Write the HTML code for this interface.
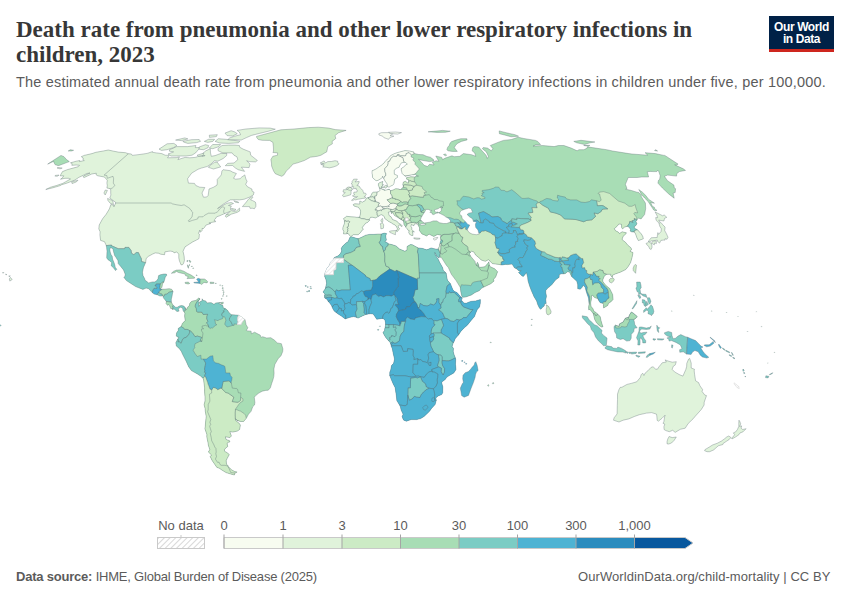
<!DOCTYPE html>
<html><head><meta charset="utf-8">
<style>
html,body{margin:0;padding:0;background:#fff;}
body{width:850px;height:600px;position:relative;overflow:hidden;font-family:"Liberation Sans",sans-serif;}
#title{position:absolute;left:16px;top:16.5px;margin:0;font-family:"Liberation Serif",serif;font-weight:bold;font-size:23px;line-height:25.2px;color:#373737;letter-spacing:0px;white-space:nowrap;}
#subtitle{position:absolute;left:16px;top:73.5px;font-size:14.5px;line-height:17px;color:#5b5b5b;letter-spacing:0.19px;white-space:nowrap;}
#logo{position:absolute;left:769px;top:16px;width:65px;height:36px;background:#002147;box-sizing:border-box;border-bottom:3px solid #ce261e;color:#fff;font-weight:bold;font-size:12px;line-height:12px;text-align:center;letter-spacing:-0.4px;padding-top:4.5px;}
#src{position:absolute;left:16px;top:569px;font-size:13px;line-height:16px;color:#5b5b5b;letter-spacing:-0.21px;white-space:nowrap;}
#src b{font-weight:bold;}
#url{position:absolute;right:19.5px;top:569px;font-size:13px;line-height:16px;color:#5b5b5b;letter-spacing:0.07px;white-space:nowrap;}
svg{position:absolute;left:0;top:0;}
.lg{font-size:13px;fill:#5b5b5b;font-family:"Liberation Sans",sans-serif;}
</style></head><body>
<div id="title">Death rate from pneumonia and other lower respiratory infections in<br>children, 2023</div>
<div id="subtitle">The estimated annual death rate from pneumonia and other lower respiratory infections in children under five, per 100,000.</div>
<div id="logo">Our World<br>in Data</div>
<div id="src"><b>Data source:</b> IHME, Global Burden of Disease (2025)</div>
<div id="url">OurWorldinData.org/child-mortality | CC BY</div>
<svg id="legend" width="850" height="600" viewBox="0 0 850 600">
<defs><pattern id="hatch" patternUnits="userSpaceOnUse" width="4" height="4" patternTransform="rotate(45)"><rect width="4" height="4" fill="#fff"/><line x1="0" y1="0" x2="0" y2="4" stroke="#cfcfcf" stroke-width="1.6"/></pattern></defs>
<g>
<rect x="157.5" y="537.5" width="47" height="11" fill="url(#hatch)" stroke="#c9c9c9" stroke-width="1"/>
<text class="lg" x="181" y="530" text-anchor="middle">No data</text><path d="M181 535V537.5" stroke="#c9c9c9" stroke-width="1"/>
<rect x="224" y="537.5" width="59" height="11" fill="#f7fcf0"/>
<rect x="283" y="537.5" width="59" height="11" fill="#e0f3db"/>
<rect x="342" y="537.5" width="58.5" height="11" fill="#ccebc5"/>
<rect x="400.5" y="537.5" width="58.5" height="11" fill="#a8ddb5"/>
<rect x="459" y="537.5" width="58.5" height="11" fill="#7bccc4"/>
<rect x="517.5" y="537.5" width="58.5" height="11" fill="#4eb3d3"/>
<rect x="576" y="537.5" width="58.5" height="11" fill="#2b8cbe"/>
<path d="M634.5 537.5H685L693 543L685 548.5H634.5Z" fill="#08589e"/>
<path d="M224 537.5H685L693 543L685 548.5H224Z" fill="none" stroke="#c9c9c9" stroke-width="1"/>
<g stroke="#a5a5a5" stroke-width="1"><path d="M224 534.5V548.5M283 534.5V548.5M342 534.5V548.5M400.5 534.5V548.5M459 534.5V548.5M517.5 534.5V548.5M576 534.5V548.5M634.5 534.5V548.5"/></g>
<g text-anchor="middle"><text class="lg" x="224" y="530">0</text><text class="lg" x="283" y="530">1</text><text class="lg" x="342" y="530">3</text><text class="lg" x="400.5" y="530">10</text><text class="lg" x="459" y="530">30</text><text class="lg" x="517.5" y="530">100</text><text class="lg" x="576" y="530">300</text><text class="lg" x="634.5" y="530">1,000</text></g>
</g>
</svg>
<svg id="map" width="850" height="600" viewBox="0 0 850 600"><defs><pattern id="hatchm" patternUnits="userSpaceOnUse" width="3" height="3" patternTransform="rotate(45)"><rect width="3" height="3" fill="#fff"/><line x1="0" y1="0" x2="0" y2="3" stroke="#e6e6e6" stroke-width="1.5"/></pattern><clipPath id="cp_africa"><path d="M350.1 237.0L351.4 236.7L356.4 238.3L358.1 238.8L361.6 237.3L365.7 235.2L369.4 234.4L373.9 234.4L377.8 234.1L379.7 234.1L381.4 234.1L384.2 233.1L386.6 233.6L385.8 235.4L385.8 237.0L386.4 239.9L384.9 241.9L386.9 242.5L388.3 243.8L391.8 244.6L396.0 245.9L399.5 249.0L404.9 251.3L407.0 250.0L407.0 246.6L410.4 244.6L412.4 244.8L415.6 246.6L418.3 247.9L422.8 248.5L426.6 249.8L428.8 249.0L431.1 247.9L434.0 248.7L437.4 249.3L438.2 248.7L440.2 253.4L439.0 258.1L436.6 255.8L434.8 252.4L435.2 254.7L438.3 259.4L439.6 262.3L442.7 267.8L443.3 270.4L446.1 273.0L447.2 279.3L447.7 280.6L450.3 283.4L452.9 289.7L454.2 291.3L457.0 292.6L460.5 296.5L461.5 297.3L462.3 299.1L460.7 300.1L461.8 300.4L463.8 303.0L466.1 303.3L470.6 301.4L475.6 300.9L480.4 299.6L480.3 303.3L479.5 306.9L477.3 309.5L475.6 313.4L474.5 316.6L471.1 320.5L467.3 325.2L464.3 327.8L460.8 331.4L458.7 334.8L457.1 336.4L455.2 338.7L454.3 341.1L452.9 343.7L452.1 346.6L453.5 348.4L453.2 351.3L453.8 353.9L455.1 357.3L455.7 359.1L455.5 364.3L456.0 369.5L453.8 372.9L449.8 375.3L446.9 377.1L445.2 379.5L441.7 382.1L442.0 384.1L442.8 386.8L442.7 392.8L441.7 394.6L438.2 395.9L435.8 398.0L436.3 400.3L435.1 404.5L434.2 405.5L431.5 408.4L429.5 411.3L427.8 412.9L424.0 416.5L420.7 418.6L418.7 419.1L416.9 419.6L411.1 419.6L406.4 421.2L403.8 420.2L403.0 418.9L402.1 416.5L403.1 414.2L401.1 410.0L400.4 406.8L399.5 405.0L396.8 400.6L396.3 395.6L395.5 390.4L395.2 387.8L393.2 383.9L391.3 379.5L389.7 375.5L389.8 372.1L390.7 370.1L391.5 365.6L393.6 363.3L394.5 359.1L393.2 353.4L392.3 348.7L391.2 346.1L391.0 345.0L390.5 343.4L390.1 342.4L388.2 340.3L385.9 337.7L384.1 334.8L382.9 332.2L384.6 330.9L384.6 329.4L385.0 327.8L385.5 325.4L385.5 322.8L385.0 320.2L383.4 318.7L382.0 318.4L379.0 318.9L376.7 319.2L375.1 316.8L373.2 314.0L370.7 313.7L368.4 314.0L365.7 314.5L362.4 316.0L358.1 318.1L355.5 317.1L353.7 316.6L349.1 317.6L345.2 318.9L341.7 316.3L338.1 314.0L334.2 311.1L332.6 308.2L331.5 305.6L329.0 302.0L328.3 301.7L327.2 299.4L324.7 298.0L324.5 295.4L325.0 294.1L323.0 292.0L325.3 288.7L326.6 283.2L326.0 279.8L324.5 275.9L324.8 273.5L326.9 268.6L329.5 265.2L330.5 262.3L333.5 259.4L334.2 257.6L338.2 255.8L340.3 253.7L341.7 251.1L341.3 248.2L342.7 246.1L346.3 242.7L348.1 241.7L349.4 238.6Z"/></clipPath><clipPath id="cp_samerica"><path d="M185.2 307.7L186.5 309.5L187.7 307.2L189.4 305.4L189.8 303.3L191.5 301.4L192.9 300.9L195.9 300.4L198.8 298.0L199.9 298.8L199.6 299.6L198.2 301.2L198.8 302.5L198.8 306.4L200.0 304.8L199.5 302.0L202.1 300.7L202.2 298.8L203.0 300.4L205.7 300.9L207.0 303.0L209.5 302.7L211.3 302.7L213.3 304.0L214.5 304.0L215.7 303.0L220.8 302.5L218.9 303.3L219.5 304.0L222.9 305.6L223.3 308.0L225.1 308.5L227.3 310.0L229.1 312.7L231.3 314.7L235.9 315.0L238.7 315.3L242.5 317.6L244.1 319.2L245.0 319.4L246.1 324.7L247.9 327.8L246.3 330.4L247.7 330.9L251.1 331.2L251.4 333.8L254.6 332.2L258.1 334.1L260.2 335.1L261.1 337.4L262.7 336.7L266.6 338.0L270.8 337.7L274.3 340.1L277.3 342.9L281.4 343.7L281.9 345.5L282.9 348.9L282.7 351.5L281.0 355.7L278.1 358.8L274.9 364.3L273.9 369.0L274.1 373.2L273.8 376.6L272.9 380.0L271.7 383.4L270.4 387.8L268.3 390.2L265.7 390.4L262.3 391.2L258.9 393.0L255.7 395.6L254.3 397.2L254.9 402.4L254.5 405.0L252.7 406.8L251.1 411.3L248.5 414.2L246.3 418.3L243.6 421.5L240.7 421.5L237.1 420.4L235.5 419.1L235.8 420.7L238.9 423.0L240.4 425.1L239.6 429.5L237.4 431.1L232.7 432.1L229.8 431.6L231.4 436.0L229.9 437.6L225.4 436.8L226.0 439.4L229.5 440.7L229.9 441.9L228.5 442.2L227.1 443.2L227.7 446.6L225.7 448.1L224.3 449.9L224.8 451.4L227.1 452.7L229.3 454.5L227.1 458.6L226.2 460.6L226.5 464.3L228.5 466.1L227.8 466.8L229.6 467.8L231.4 469.8L234.8 471.6L237.1 472.1L235.0 473.1L234.4 475.0L230.7 474.0L226.1 472.6L222.3 470.3L219.4 468.3L216.8 467.3L214.6 464.1L212.1 460.4L210.2 456.5L211.6 455.0L208.4 452.0L209.8 449.7L208.3 445.0L208.1 443.0L207.3 439.4L206.8 436.8L206.9 434.5L204.9 428.7L205.3 426.4L205.5 423.0L206.2 416.5L205.3 411.3L205.1 408.4L204.1 404.8L205.0 401.1L205.0 396.7L204.6 392.0L204.6 387.8L204.0 383.1L203.4 378.7L200.9 376.3L197.5 374.0L191.4 370.6L188.6 366.7L186.4 361.7L184.8 358.6L182.5 354.1L181.4 351.5L179.2 348.4L176.4 346.1L175.8 342.7L177.5 339.5L178.9 337.2L178.0 337.2L176.3 336.1L176.5 333.0L178.3 330.4L178.3 328.3L179.3 327.8L181.4 326.2L182.3 323.6L185.2 320.5L184.6 316.0L184.9 313.2L183.9 311.6L185.5 309.8Z"/></clipPath><clipPath id="cp_namerica"><path d="M185.2 307.7L183.9 306.1L181.6 305.5L179.5 305.9L177.4 307.2L175.8 307.4L174.2 306.1L173.3 305.4L172.5 304.3L171.3 302.0L171.3 299.1L172.0 296.5L172.4 293.9L173.1 291.3L171.5 289.2L169.3 288.7L166.9 288.9L165.1 289.2L162.6 289.2L160.3 288.9L161.9 287.3L162.4 284.7L163.0 282.4L163.6 282.7L164.7 279.5L165.2 277.4L166.8 275.1L166.3 274.0L163.8 274.0L160.3 274.8L158.6 275.6L158.0 278.7L156.6 280.8L154.6 281.9L152.4 281.9L148.6 282.9L146.9 281.6L145.1 280.3L144.6 278.5L143.0 275.6L142.5 272.2L143.4 267.8L145.0 263.9L145.6 262.7L146.2 258.4L148.5 256.3L152.7 254.0L155.2 252.9L158.5 253.2L160.7 254.2L162.8 254.5L164.6 254.7L164.9 251.9L168.4 251.3L170.2 251.1L173.2 251.6L174.0 252.9L176.7 251.9L178.1 253.4L178.8 254.5L178.8 257.9L179.4 260.7L180.0 262.3L181.1 264.9L182.7 264.6L183.7 263.1L184.4 260.5L184.1 256.0L183.0 251.3L185.0 246.9L187.8 245.1L192.7 241.9L196.4 240.1L199.0 238.6L199.4 234.1L198.5 233.4L199.9 230.0L200.3 232.3L202.1 230.5L202.2 228.2L203.0 228.9L204.4 227.6L206.1 225.0L208.4 224.3L210.8 223.5L208.9 223.0L212.5 222.2L215.6 221.7L215.4 220.9L214.4 220.9L214.3 219.9L215.2 219.1L216.7 216.8L219.6 215.8L224.3 213.7L226.7 212.7L230.3 211.4L229.3 212.4L226.2 214.5L225.4 216.3L226.2 217.3L231.2 214.2L237.1 212.4L239.7 210.9L239.5 208.1L236.6 210.9L234.0 211.4L231.5 210.6L230.7 210.1L230.4 207.8L231.4 206.0L228.5 205.5L233.5 203.5L231.2 202.5L226.9 203.2L221.9 206.0L217.5 208.6L221.7 205.3L225.8 202.5L230.3 199.9L235.2 199.7L239.5 199.9L244.3 199.2L249.9 197.0L253.3 195.0L254.1 192.2L252.1 191.2L251.9 189.0L247.5 186.8L245.7 184.3L247.1 181.4L245.9 179.0L244.8 174.9L241.8 177.0L240.1 178.7L235.6 179.2L233.6 178.3L235.0 175.8L236.4 173.5L232.6 172.1L230.2 170.7L223.1 169.7L221.9 171.1L221.4 174.4L220.6 175.8L217.2 179.5L217.3 183.1L217.0 185.1L213.6 187.2L209.0 189.0L208.5 193.0L208.1 195.5L206.7 197.0L203.5 197.2L202.6 195.0L202.0 193.0L204.8 187.5L199.7 187.2L195.8 185.5L194.5 183.4L188.4 183.1L187.6 178.7L191.6 173.2L198.0 169.3L201.3 168.1L207.2 166.5L210.9 164.1L214.4 160.7L217.9 161.2L223.2 158.5L226.6 155.6L226.8 153.4L221.0 153.4L215.1 155.6L211.3 156.3L210.5 152.9L210.3 148.7L205.9 150.8L202.7 153.4L202.0 156.3L205.1 155.6L198.6 156.3L195.2 157.4L189.7 157.8L185.0 157.4L177.9 159.6L179.5 156.9L176.3 157.6L167.5 157.8L169.2 155.4L165.2 155.2L161.8 153.6L156.4 152.9L152.5 152.3L152.5 151.6L147.1 153.4L141.1 154.3L136.2 154.9L132.3 155.4L131.4 154.0L128.4 153.7L125.5 152.7L118.2 152.1L113.7 151.2L108.3 150.0L102.2 151.2L95.8 152.3L92.0 153.6L84.2 155.4L81.3 156.7L83.3 158.1L82.8 159.4L84.3 160.5L79.5 161.6L79.8 160.5L76.3 161.2L70.5 162.8L72.2 163.7L71.8 165.3L76.3 165.0L79.5 165.3L78.2 166.7L74.9 167.6L67.2 169.7L62.5 171.6L60.7 174.7L60.1 175.8L63.8 175.8L62.0 178.3L60.5 179.2L65.0 178.3L68.5 178.3L70.5 179.0L65.4 181.9L62.7 183.4L56.5 185.5L50.6 187.2L45.8 189.5L49.5 188.6L52.1 188.0L56.3 186.8L60.5 185.5L61.5 184.8L67.0 183.1L71.9 181.2L75.0 180.0L78.6 177.5L84.5 174.7L86.8 173.5L90.0 173.0L84.0 175.8L83.0 176.8L84.1 177.5L87.9 175.8L91.7 174.0L96.3 173.2L96.0 174.7L97.8 175.8L104.4 177.0L107.3 180.2L106.9 183.1L107.3 185.5L106.9 188.0L110.2 188.7L110.7 189.7L110.7 193.0L110.9 195.0L109.8 198.0L112.9 200.4L115.5 202.2L115.7 203.0L113.9 206.8L113.8 205.3L110.9 204.5L109.6 208.3L108.7 210.1L106.2 214.2L102.5 218.9L99.2 225.0L98.8 228.9L100.1 231.8L99.9 234.9L100.6 240.4L104.5 241.7L106.1 245.1L106.6 247.4L107.0 251.1L106.7 257.9L108.0 259.7L109.5 260.7L111.7 262.6L111.2 265.7L113.5 267.8L115.5 270.6L116.8 269.3L115.2 267.3L114.9 265.2L114.0 262.6L112.6 259.2L112.2 256.3L111.1 254.7L110.2 252.1L109.8 249.5L110.5 247.4L112.9 248.7L113.5 251.6L114.2 254.0L114.5 255.3L116.1 257.6L118.0 260.7L118.2 263.6L120.5 266.2L123.5 269.9L125.2 274.3L124.8 276.7L123.8 277.2L126.4 280.6L130.8 283.4L135.6 286.6L141.7 288.9L142.9 289.4L146.1 288.1L148.7 288.7L152.2 292.6L154.1 294.1L157.0 294.7L157.7 294.9L159.9 296.0L162.2 296.0L163.1 295.4L163.3 296.5L163.4 297.8L164.8 299.6L166.1 301.2L166.5 302.0L165.9 303.3L167.6 305.4L168.3 304.3L168.3 304.6L169.7 305.9L170.7 308.5L172.3 308.7L172.5 309.5L174.1 309.0L175.6 310.3L177.0 311.6L179.1 311.1L178.2 309.0L180.4 307.2L182.6 308.0L182.8 309.3L183.2 310.8L183.9 311.6L185.5 309.8Z"/></clipPath><clipPath id="cp_eurasia"><path d="M405.0 150.6L409.6 151.0L414.0 152.1L414.0 153.4L418.8 154.5L423.1 154.7L427.0 156.5L430.3 157.2L433.5 159.6L433.6 161.0L429.5 161.6L423.1 160.5L418.5 159.4L420.8 161.4L424.1 165.3L427.5 166.5L429.5 164.3L434.1 165.0L432.3 162.3L436.1 160.7L438.9 161.4L435.8 156.0L441.7 157.4L442.6 159.6L445.3 158.1L452.0 155.8L454.1 156.7L459.8 156.3L463.4 153.6L471.5 154.7L475.8 156.3L474.7 152.9L472.1 150.8L472.8 147.6L474.4 146.6L478.7 147.0L482.0 150.8L486.0 155.2L487.3 158.5L488.4 156.3L486.3 151.9L482.4 148.7L483.2 147.6L487.5 148.1L491.3 150.8L492.9 148.7L490.3 145.5L497.9 142.4L503.4 140.4L511.4 139.5L518.0 137.2L523.8 138.5L535.5 140.4L537.7 141.4L540.6 144.5L535.6 144.9L533.0 146.2L542.6 145.5L554.1 146.6L558.4 145.5L563.9 145.5L571.2 148.1L577.1 150.8L579.0 149.7L583.9 149.7L587.2 148.1L587.4 146.8L592.3 147.6L606.6 149.7L612.6 151.0L628.8 153.6L631.9 154.0L647.7 155.2L645.1 152.7L655.4 153.6L663.9 155.4L664.8 155.4L678.1 164.1L676.7 165.0L674.7 164.8L683.3 168.8L685.5 170.4L679.4 171.6L676.7 173.7L676.6 176.1L667.6 175.1L664.4 176.3L667.5 180.7L673.9 185.1L674.3 188.0L675.6 188.7L675.2 192.5L673.1 193.0L674.2 198.2L669.0 194.2L662.4 188.0L657.9 183.1L658.5 180.2L659.6 179.5L660.2 175.8L658.9 171.8L657.7 170.2L656.8 171.6L653.1 171.6L650.1 171.4L647.1 171.8L647.6 173.0L648.6 177.0L641.7 177.0L637.1 177.5L628.2 177.5L626.7 181.2L625.4 184.3L627.0 188.5L625.7 189.2L631.5 190.5L636.9 192.2L638.7 192.5L641.3 195.5L641.3 196.7L645.4 203.0L645.7 208.6L644.6 214.5L641.1 218.9L638.3 218.1L637.0 220.1L635.9 221.4L637.0 223.8L635.4 226.1L634.2 226.6L634.5 228.2L637.4 229.7L641.3 233.9L642.8 236.5L643.3 238.8L641.2 239.6L638.4 240.6L636.9 237.8L635.6 234.1L634.9 232.6L633.6 232.1L631.5 231.8L630.1 231.0L630.6 229.5L628.9 227.1L627.3 226.3L624.6 227.1L622.5 228.9L621.6 227.4L621.5 224.3L618.8 224.0L617.1 226.3L614.3 228.7L615.6 230.8L618.3 232.1L619.5 233.6L622.1 231.8L626.4 232.8L625.7 234.1L623.2 236.2L622.1 239.1L622.4 239.9L625.4 242.2L627.9 245.3L631.1 247.9L631.5 249.8L629.9 251.3L633.0 252.6L632.1 257.3L630.6 262.6L628.2 266.5L625.7 269.6L620.3 272.2L618.8 272.7L615.2 274.0L612.5 275.3L612.5 277.4L610.8 275.9L610.8 274.3L609.2 274.3L606.7 274.3L604.3 276.1L602.7 280.0L602.9 281.6L605.2 284.7L608.1 287.3L609.6 288.4L612.6 294.4L613.1 299.4L610.7 302.0L608.5 303.3L607.8 305.4L603.6 308.0L603.4 304.8L604.0 304.3L602.5 303.3L600.2 302.7L598.8 300.7L598.5 299.9L597.5 298.6L594.7 297.5L593.7 296.7L592.8 295.2L591.5 295.7L591.6 297.5L591.4 299.6L590.6 303.0L591.1 306.4L592.8 308.5L594.1 311.6L596.0 312.4L597.7 314.2L600.2 316.6L601.0 320.5L602.0 324.1L603.0 326.7L601.4 327.0L598.3 324.7L596.4 322.6L594.7 319.4L593.9 316.3L593.3 313.7L591.3 311.1L589.9 309.5L588.7 309.8L588.6 306.9L589.1 304.3L588.5 298.0L587.0 293.9L586.0 290.7L585.1 287.3L583.2 285.3L582.1 287.3L580.3 289.2L577.7 288.7L577.7 284.7L576.8 281.3L573.2 278.0L571.6 276.4L570.6 274.6L569.8 272.2L567.5 271.7L565.9 273.3L564.0 273.8L561.5 273.8L559.3 274.6L559.1 277.4L557.2 278.7L555.5 280.0L552.2 284.2L550.1 286.3L547.8 288.1L545.8 290.5L545.8 292.8L546.5 296.2L545.8 299.4L546.2 303.5L544.6 303.8L544.2 306.1L542.4 307.4L540.9 309.3L539.5 308.2L537.7 304.6L536.6 300.9L534.0 296.7L531.2 290.2L529.6 286.0L528.0 280.8L527.6 277.2L527.1 275.1L526.4 272.5L525.8 273.5L523.4 276.4L522.0 275.9L520.0 274.0L518.5 272.5L521.2 270.6L519.0 270.9L516.2 268.6L514.6 268.0L513.2 265.7L511.9 264.1L507.7 264.6L505.2 264.4L502.6 264.9L501.2 264.9L498.7 264.4L492.3 263.6L490.2 261.3L488.5 259.7L485.3 261.3L481.1 260.0L479.8 258.4L475.6 255.0L474.0 252.1L471.2 251.1L470.5 252.4L469.3 253.7L470.7 256.3L473.8 260.0L475.1 261.5L475.3 263.3L476.9 266.0L476.7 263.9L477.4 262.3L478.6 264.6L478.8 267.0L480.8 267.3L485.0 266.7L486.8 264.4L488.2 263.1L488.9 261.8L489.3 264.9L490.2 266.7L494.7 268.8L497.6 271.7L495.7 276.9L493.6 279.3L494.0 281.1L490.8 283.7L486.0 286.0L483.8 287.1L481.8 288.1L479.2 290.7L475.0 292.6L471.5 294.9L465.8 297.0L462.4 297.3L461.7 295.7L460.8 291.8L460.3 287.6L459.6 286.3L456.1 280.6L451.4 274.3L448.3 267.5L446.3 265.2L444.3 262.0L442.5 259.2L441.2 257.3L439.9 257.3L440.4 253.4L440.2 253.4L438.2 248.7L439.3 246.6L439.6 244.8L440.3 241.9L440.9 240.6L440.5 237.8L441.0 234.9L439.5 234.9L437.5 234.4L433.8 236.5L429.0 234.1L426.7 236.0L423.9 234.7L421.9 233.9L419.4 230.5L419.6 227.9L418.6 226.1L417.9 224.5L417.7 224.0L414.5 223.8L413.9 225.8L411.4 224.5L410.9 226.3L411.9 227.9L411.8 229.5L414.4 232.1L412.2 231.5L412.8 233.1L413.0 235.4L411.5 235.4L409.7 234.4L408.6 232.1L409.4 230.8L408.0 230.2L407.1 228.7L405.9 227.4L405.4 226.3L404.0 224.8L403.8 222.7L403.7 221.2L401.7 219.9L400.8 219.4L397.1 217.0L394.5 215.5L392.6 212.4L391.6 213.7L391.3 211.6L388.2 212.2L388.7 213.4L389.1 215.5L391.0 216.8L392.6 219.6L397.0 221.2L398.6 223.2L401.0 224.5L402.2 225.8L402.0 226.6L401.1 226.1L399.3 224.8L398.0 226.9L399.6 228.7L398.4 230.2L397.4 231.5L396.3 231.0L397.5 228.9L396.2 226.1L394.2 224.5L392.9 224.0L391.6 223.0L388.6 221.4L387.7 220.7L384.8 218.6L384.4 217.0L383.2 215.5L381.3 214.7L380.5 215.0L378.1 216.5L375.2 218.1L374.2 217.6L372.5 217.3L370.6 217.3L369.2 219.4L369.8 220.1L367.5 222.5L365.6 223.2L364.8 224.3L362.3 227.4L363.3 229.5L361.8 230.5L360.8 232.3L358.2 234.7L353.4 234.7L351.3 236.2L350.8 236.5L349.3 235.2L348.1 233.4L345.9 233.9L343.5 233.9L343.8 231.3L342.8 229.5L342.9 227.6L344.5 223.2L344.4 220.4L343.5 218.6L345.4 217.3L346.5 216.3L351.0 216.8L355.0 217.0L356.6 217.3L359.1 217.3L359.6 217.0L360.4 214.0L360.6 211.6L360.4 210.1L358.4 207.3L356.6 206.8L354.0 206.0L353.2 204.5L354.8 203.8L358.9 204.0L359.9 204.0L359.7 201.2L360.3 201.2L362.3 202.2L363.1 201.7L365.1 200.7L366.1 198.7L366.7 198.0L367.7 197.8L368.6 197.5L369.2 197.1L370.0 197.0L371.0 195.5L372.1 193.1L373.4 192.2L376.3 192.0L376.9 192.0L378.7 191.5L379.8 190.7L380.1 190.2L379.5 188.2L379.0 186.8L378.4 185.5L378.4 183.8L379.1 182.9L382.8 181.4L382.7 182.1L382.4 183.1L382.3 185.1L383.6 184.6L381.7 186.5L381.4 188.0L381.0 188.5L382.6 189.5L384.4 189.5L384.0 190.5L386.3 190.0L389.2 189.2L390.5 190.7L393.1 190.0L395.7 188.7L399.2 189.0L399.1 189.5L400.8 189.5L401.3 188.8L403.2 187.2L403.3 186.3L402.8 184.3L403.4 182.1L405.4 181.3L407.9 183.1L408.5 183.1L408.6 180.9L408.7 179.7L406.7 179.2L406.5 178.3L406.3 177.8L408.6 177.2L410.9 176.8L414.7 177.0L416.3 176.1L418.5 176.1L416.2 175.4L415.4 174.2L413.8 174.7L412.2 174.7L408.8 175.4L405.3 176.3L403.6 174.9L401.9 173.2L401.9 172.1L401.2 170.0L401.3 168.6L403.7 166.9L405.9 164.8L407.4 164.1L405.5 162.5L404.7 162.3L401.5 162.8L400.1 164.8L399.1 167.2L396.4 168.3L394.2 170.2L394.3 174.2L397.4 175.4L397.4 177.5L394.9 179.0L394.3 181.2L394.0 183.8L392.6 185.2L390.3 186.3L389.4 187.0L388.2 187.0L387.6 186.5L387.1 185.4L387.2 184.0L385.3 181.4L383.7 178.5L383.1 177.8L382.6 176.1L382.2 177.5L381.5 178.3L377.9 180.4L376.1 180.7L373.3 178.4L372.5 177.3L372.4 174.9L372.0 173.2L372.1 170.7L374.0 170.0L376.6 168.6L378.5 167.2L381.4 165.3L382.5 164.3L384.1 163.0L384.7 161.9L387.5 159.0L389.2 157.4L390.6 155.6L394.5 153.6L397.6 152.5L401.8 151.4Z"/></clipPath></defs><g stroke="#5a6a70" stroke-width="0.5" stroke-opacity="0.7" stroke-linejoin="round"><path d="M350.1 237.0L351.4 236.7L356.4 238.3L358.1 238.8L361.6 237.3L365.7 235.2L369.4 234.4L373.9 234.4L377.8 234.1L379.7 234.1L381.4 234.1L384.2 233.1L386.6 233.6L385.8 235.4L385.8 237.0L386.4 239.9L384.9 241.9L386.9 242.5L388.3 243.8L391.8 244.6L396.0 245.9L399.5 249.0L404.9 251.3L407.0 250.0L407.0 246.6L410.4 244.6L412.4 244.8L415.6 246.6L418.3 247.9L422.8 248.5L426.6 249.8L428.8 249.0L431.1 247.9L434.0 248.7L437.4 249.3L438.2 248.7L440.2 253.4L439.0 258.1L436.6 255.8L434.8 252.4L435.2 254.7L438.3 259.4L439.6 262.3L442.7 267.8L443.3 270.4L446.1 273.0L447.2 279.3L447.7 280.6L450.3 283.4L452.9 289.7L454.2 291.3L457.0 292.6L460.5 296.5L461.5 297.3L462.3 299.1L460.7 300.1L461.8 300.4L463.8 303.0L466.1 303.3L470.6 301.4L475.6 300.9L480.4 299.6L480.3 303.3L479.5 306.9L477.3 309.5L475.6 313.4L474.5 316.6L471.1 320.5L467.3 325.2L464.3 327.8L460.8 331.4L458.7 334.8L457.1 336.4L455.2 338.7L454.3 341.1L452.9 343.7L452.1 346.6L453.5 348.4L453.2 351.3L453.8 353.9L455.1 357.3L455.7 359.1L455.5 364.3L456.0 369.5L453.8 372.9L449.8 375.3L446.9 377.1L445.2 379.5L441.7 382.1L442.0 384.1L442.8 386.8L442.7 392.8L441.7 394.6L438.2 395.9L435.8 398.0L436.3 400.3L435.1 404.5L434.2 405.5L431.5 408.4L429.5 411.3L427.8 412.9L424.0 416.5L420.7 418.6L418.7 419.1L416.9 419.6L411.1 419.6L406.4 421.2L403.8 420.2L403.0 418.9L402.1 416.5L403.1 414.2L401.1 410.0L400.4 406.8L399.5 405.0L396.8 400.6L396.3 395.6L395.5 390.4L395.2 387.8L393.2 383.9L391.3 379.5L389.7 375.5L389.8 372.1L390.7 370.1L391.5 365.6L393.6 363.3L394.5 359.1L393.2 353.4L392.3 348.7L391.2 346.1L391.0 345.0L390.5 343.4L390.1 342.4L388.2 340.3L385.9 337.7L384.1 334.8L382.9 332.2L384.6 330.9L384.6 329.4L385.0 327.8L385.5 325.4L385.5 322.8L385.0 320.2L383.4 318.7L382.0 318.4L379.0 318.9L376.7 319.2L375.1 316.8L373.2 314.0L370.7 313.7L368.4 314.0L365.7 314.5L362.4 316.0L358.1 318.1L355.5 317.1L353.7 316.6L349.1 317.6L345.2 318.9L341.7 316.3L338.1 314.0L334.2 311.1L332.6 308.2L331.5 305.6L329.0 302.0L328.3 301.7L327.2 299.4L324.7 298.0L324.5 295.4L325.0 294.1L323.0 292.0L325.3 288.7L326.6 283.2L326.0 279.8L324.5 275.9L324.8 273.5L326.9 268.6L329.5 265.2L330.5 262.3L333.5 259.4L334.2 257.6L338.2 255.8L340.3 253.7L341.7 251.1L341.3 248.2L342.7 246.1L346.3 242.7L348.1 241.7L349.4 238.6Z" fill="#4eb3d3" stroke="none"/>
<g clip-path="url(#cp_africa)">
<path d="M343.6 258.2L343.6 255.5L346.1 253.7L348.5 253.2L350.7 252.6L351.8 252.1L355.0 250.3L355.0 249.5L356.5 247.4L360.3 246.6L360.3 245.9L359.2 243.5L359.0 241.7L358.1 238.8L358.6 231.3L335.0 231.3L327.3 258.2Z" fill="#7bccc4"/>
<path d="M343.6 258.2L343.5 262.6L336.1 262.6L335.9 269.3L333.6 270.4L333.5 274.7L324.7 274.7L324.2 276.1L317.7 276.1L318.4 258.2Z" fill="url(#hatchm)"/>
<path d="M343.6 259.2L352.1 265.2L348.3 265.2L350.4 290.0L341.7 290.0L338.0 291.0L336.7 289.7L335.1 291.8L334.4 291.5L332.6 289.4L329.0 287.0L326.9 287.3L325.3 288.4L317.3 288.7L317.7 276.1L324.2 276.1L324.7 274.7L333.5 274.7L333.6 270.4L335.9 269.3L336.1 262.6L343.5 262.6Z" fill="#7bccc4"/>
<path d="M358.1 238.8L359.0 241.7L359.2 243.5L360.3 245.9L360.3 246.6L356.5 247.4L355.0 249.5L355.0 250.3L351.8 252.1L350.7 252.6L348.5 253.2L346.1 253.7L343.6 255.5L343.6 259.2L352.1 265.2L365.4 275.3L365.6 276.4L370.1 278.7L370.4 280.8L372.5 280.4L376.0 279.8L379.8 275.9L389.8 269.1L388.7 267.0L386.0 266.2L384.8 261.3L384.9 256.6L384.6 253.7L383.9 251.6L382.9 249.0L382.7 246.6L381.1 245.6L379.3 242.5L380.7 240.1L380.9 237.5L381.4 234.1L381.3 228.7L358.2 228.7Z" fill="#a8ddb5"/>
<path d="M381.4 234.1L380.9 237.5L380.7 240.1L379.3 242.5L381.1 245.6L382.7 246.6L382.9 249.0L383.9 251.6L385.4 249.8L385.6 247.7L388.1 245.6L388.3 243.8L391.1 239.1L388.5 228.7L381.3 228.7Z" fill="#7bccc4"/>
<path d="M388.3 243.8L388.1 245.6L385.6 247.7L385.4 249.8L383.9 251.6L384.6 253.7L384.9 256.6L384.8 261.3L386.0 266.2L388.7 267.0L389.8 269.1L394.9 271.4L396.7 270.4L417.3 279.5L417.2 278.2L419.5 278.2L419.3 273.0L418.3 254.2L417.5 251.9L418.3 247.9L417.2 239.1L388.1 239.1Z" fill="#a8ddb5"/>
<path d="M418.3 247.9L417.5 251.9L418.3 254.2L419.3 273.0L446.1 273.0L450.5 267.8L444.9 253.4L438.2 248.7L437.3 244.3L418.1 244.3Z" fill="#7bccc4"/>
<path d="M419.3 273.0L419.5 278.2L417.2 278.2L417.6 289.4L415.1 289.7L414.3 293.3L413.9 295.4L412.8 297.3L414.5 301.7L415.3 301.9L417.0 304.6L417.8 307.7L419.4 307.4L420.2 303.5L423.7 305.6L427.2 306.1L429.4 305.1L430.6 304.0L433.6 305.1L436.0 303.0L437.1 299.9L436.4 299.1L438.9 298.6L438.8 302.5L440.9 305.6L441.5 302.7L442.9 302.2L443.3 299.6L445.5 297.3L446.1 294.9L446.2 293.1L446.0 291.3L447.1 286.0L450.3 283.4L455.9 280.8L450.8 271.7L446.1 273.0Z" fill="#7bccc4"/>
<path d="M396.7 270.4L417.3 279.5L417.6 289.4L415.1 289.7L414.3 293.3L413.9 295.4L412.8 297.3L414.5 301.7L415.3 301.9L412.7 302.7L409.7 306.7L406.5 306.9L405.6 309.3L403.6 309.8L401.0 310.3L398.5 310.8L397.8 308.2L395.0 305.1L395.5 304.3L398.5 304.3L397.5 302.2L397.2 298.8L396.3 297.3L395.1 296.2L394.0 294.7L393.5 292.8L395.7 289.4L398.2 286.3L398.3 282.1L398.0 278.5L398.9 277.2Z" fill="#2b8cbe"/>
<path d="M372.5 280.4L376.0 279.8L379.8 275.9L389.8 269.1L394.9 271.4L396.7 270.4L398.9 277.2L398.0 278.5L398.3 282.1L398.2 286.3L395.7 289.4L393.5 292.8L394.0 294.7L391.5 296.2L389.2 295.7L386.2 295.7L383.5 297.0L380.7 295.7L378.7 296.5L375.5 294.1L372.3 295.2L371.1 299.9L369.3 298.0L368.4 299.4L367.9 299.4L367.7 297.3L365.2 296.5L363.8 293.9L363.4 291.5L365.9 290.5L371.1 290.0L372.6 286.3Z" fill="#2b8cbe"/>
<path d="M352.1 265.2L365.4 275.3L365.6 276.4L370.1 278.7L370.4 280.8L372.5 280.4L372.6 286.3L371.1 290.0L365.9 290.5L363.4 291.5L361.3 291.0L358.3 293.3L356.3 293.9L354.9 296.0L353.1 296.2L352.8 297.3L350.8 299.6L350.3 303.3L348.7 302.5L347.1 303.5L344.8 303.8L343.9 301.7L343.0 300.4L341.6 298.3L339.3 298.6L336.8 298.0L336.8 296.5L335.3 293.9L335.1 291.8L336.7 289.7L338.0 291.0L341.7 290.0L350.4 290.0L348.3 265.2Z" fill="#4eb3d3"/>
<path d="M325.3 288.4L326.9 287.3L329.0 287.0L332.6 289.4L334.4 291.5L335.1 291.8L335.3 293.9L336.8 296.5L336.8 298.0L334.5 298.3L331.6 297.3L328.1 297.3L324.7 298.2L319.4 298.2L319.6 288.4Z" fill="#7bccc4"/>
<path d="M322.9 296.4L326.8 296.1L327.7 295.6L331.4 295.7L331.4 295.0L328.4 294.4L327.5 294.9L322.9 294.9Z" fill="#7bccc4"/>
<path d="M321.7 298.2L324.7 298.2L328.1 297.3L331.6 297.3L331.5 299.9L329.2 300.4L328.5 302.0L321.6 303.0Z" fill="#4eb3d3"/>
<path d="M328.5 302.0L329.2 300.4L331.5 299.9L331.6 297.3L334.5 298.3L336.8 298.0L339.3 298.6L341.6 298.3L343.0 300.4L343.9 301.7L344.8 303.8L344.3 305.9L345.2 308.5L343.8 310.6L343.4 310.7L341.3 311.1L341.3 308.5L339.2 308.2L338.6 306.7L337.2 304.3L334.2 304.6L332.4 306.9L328.5 308.2L323.9 303.0Z" fill="#4eb3d3"/>
<path d="M332.4 306.9L334.2 304.6L337.2 304.3L338.6 306.7L339.2 308.2L338.5 309.5L336.5 312.4L333.0 314.7L328.4 309.5Z" fill="#4eb3d3"/>
<path d="M336.5 312.4L338.5 309.5L339.2 308.2L341.3 308.5L341.3 311.1L343.4 310.7L343.8 313.4L345.9 315.3L345.6 319.1L344.5 322.6L333.0 316.0Z" fill="#4eb3d3"/>
<path d="M345.6 319.1L345.9 315.3L343.8 313.4L343.4 310.7L343.8 310.6L345.2 308.5L344.3 305.9L344.8 303.8L347.1 303.5L348.7 302.5L350.3 303.3L352.1 304.8L355.6 304.6L356.7 305.6L357.2 309.0L355.5 312.7L356.5 317.1L356.0 321.3L345.6 322.6Z" fill="#4eb3d3"/>
<path d="M350.3 303.3L350.8 299.6L352.8 297.3L353.1 296.2L354.9 296.0L356.3 293.9L358.3 293.3L361.3 291.0L363.4 291.5L363.8 293.9L365.2 296.5L367.7 297.3L367.9 299.4L368.4 299.4L366.1 300.7L365.0 301.7L362.6 301.4L356.5 301.7L356.7 305.6L355.6 304.6L352.1 304.8Z" fill="#4eb3d3"/>
<path d="M356.5 317.1L355.5 312.7L357.2 309.0L356.7 305.6L356.5 301.7L362.6 301.4L362.9 302.7L363.8 303.5L363.8 305.6L364.3 308.7L364.3 311.1L364.0 312.4L365.7 314.5L365.7 321.3L356.0 321.3Z" fill="#7bccc4"/>
<path d="M365.7 314.5L364.0 312.4L364.3 311.1L364.3 308.7L363.8 305.6L363.8 303.5L362.9 302.7L362.6 301.4L365.0 301.7L364.7 303.3L366.1 306.1L366.6 312.4L366.7 314.2L366.7 317.4Z" fill="#4eb3d3"/>
<path d="M366.7 314.2L366.6 312.4L366.1 306.1L364.7 303.3L365.0 301.7L366.1 300.7L368.4 299.4L369.3 298.0L371.1 299.9L371.6 302.7L370.0 306.4L369.1 309.5L369.1 313.7L369.1 317.4L366.7 317.4Z" fill="#4eb3d3"/>
<path d="M369.1 313.7L369.1 309.5L370.0 306.4L371.6 302.7L371.1 299.9L372.3 295.2L375.5 294.1L378.7 296.5L380.7 295.7L383.5 297.0L386.2 295.7L389.2 295.7L391.5 296.2L394.0 294.7L395.1 296.2L395.4 298.0L396.3 300.4L394.5 301.7L393.2 305.4L392.3 307.7L390.9 308.5L390.0 311.9L388.7 313.4L387.3 312.1L385.4 312.7L383.4 315.0L382.5 317.9L382.5 322.6L369.1 322.6Z" fill="#4eb3d3"/>
<path d="M382.5 317.9L383.4 315.0L385.4 312.7L387.3 312.1L388.7 313.4L390.0 311.9L390.9 308.5L392.3 307.7L393.2 305.4L394.5 301.7L396.3 300.4L395.4 298.0L395.1 296.2L396.3 297.3L397.2 298.8L397.5 302.2L398.5 304.3L395.5 304.3L395.0 305.1L397.8 308.2L398.5 310.8L396.5 314.2L396.3 316.6L397.4 319.2L399.5 322.6L400.0 324.7L400.2 326.0L397.5 325.2L393.5 324.7L389.0 324.7L385.5 324.4L381.3 324.4Z" fill="#4eb3d3"/>
<path d="M385.5 324.4L389.0 324.7L389.1 327.8L385.0 327.8L381.3 327.8L381.3 324.4Z" fill="#7bccc4"/>
<path d="M385.0 327.8L389.1 327.8L389.0 324.7L393.5 324.7L393.3 327.3L395.6 326.7L396.3 328.3L394.9 329.9L396.3 332.0L396.1 335.4L394.9 336.7L391.7 335.6L391.7 336.7L389.6 337.7L390.3 339.5L388.5 340.6L381.3 340.8L381.3 327.8Z" fill="#7bccc4"/>
<path d="M388.5 340.6L390.3 339.5L389.6 337.7L391.7 336.7L391.7 335.6L394.9 336.7L396.1 335.4L396.3 332.0L394.9 329.9L396.3 328.3L395.6 326.7L393.3 327.3L393.5 324.7L397.5 325.2L400.2 326.0L400.0 324.7L400.9 323.1L401.1 321.3L405.7 321.3L404.6 324.4L404.1 328.1L403.9 331.4L401.6 333.5L400.2 336.1L399.5 340.6L397.9 341.9L396.0 343.2L393.7 343.2L393.1 342.4L392.4 341.9L390.5 343.4L385.9 343.4Z" fill="#7bccc4"/>
<path d="M398.5 310.8L401.0 310.3L403.6 309.8L405.6 309.3L406.5 306.9L409.7 306.7L412.7 302.7L415.3 301.9L417.0 304.6L417.8 307.7L420.8 310.0L423.6 313.2L426.0 317.1L421.6 316.6L419.1 317.1L415.6 317.9L414.5 319.7L410.3 318.9L407.5 317.1L405.7 319.2L405.7 321.3L401.1 321.3L400.9 323.1L400.0 324.7L399.5 322.6L397.4 319.2L396.3 316.6L396.5 314.2Z" fill="#2b8cbe"/>
<path d="M417.8 307.7L419.4 307.4L420.2 303.5L423.7 305.6L427.2 306.1L429.4 305.1L430.6 304.0L433.6 305.1L436.0 303.0L437.1 299.9L436.4 299.1L438.9 298.6L438.8 302.5L440.9 305.6L441.2 308.0L438.7 309.8L441.0 311.4L442.7 312.9L444.1 316.3L445.5 318.4L441.2 319.4L438.9 320.2L437.0 321.0L434.7 320.5L433.9 321.3L432.0 318.9L429.7 318.7L428.3 319.2L426.0 317.1L423.6 313.2L420.8 310.0Z" fill="#4eb3d3"/>
<path d="M446.2 293.1L446.1 294.9L445.5 297.3L443.3 299.6L442.9 302.2L441.5 302.7L440.9 305.6L441.2 308.0L438.7 309.8L441.0 311.4L442.7 312.9L444.1 316.3L445.5 318.4L447.8 318.9L450.6 321.0L453.9 321.5L456.8 319.4L459.4 320.1L461.7 319.2L463.5 317.6L466.4 317.6L473.1 309.5L470.8 309.5L463.9 307.0L462.5 305.9L460.8 303.0L461.0 301.8L458.7 301.7L458.6 299.9L459.9 297.9L457.1 295.2L454.4 292.6L452.2 292.3L450.8 292.8L449.4 291.5L448.8 293.1Z" fill="#7bccc4"/>
<path d="M450.3 283.4L447.1 286.0L446.0 291.3L446.2 293.1L448.8 293.1L449.4 291.5L450.8 292.8L452.2 292.3L454.4 292.6L457.1 295.2L459.9 297.9L461.5 297.3L463.5 295.2L453.7 283.4Z" fill="#4eb3d3"/>
<path d="M462.1 300.5L461.0 301.8L460.8 303.0L462.5 305.9L463.9 307.0L470.8 309.5L473.1 309.5L466.4 317.6L463.5 317.6L461.7 319.2L459.4 320.1L457.3 323.1L457.4 332.6L458.7 334.8L464.2 338.2L484.6 306.9L484.1 296.5L464.7 298.6Z" fill="#4eb3d3"/>
<path d="M461.5 297.3L459.9 297.9L458.6 299.9L458.7 301.7L461.0 301.8L462.1 300.5L464.1 299.6L463.6 297.5Z" fill="#4eb3d3"/>
<path d="M445.5 318.4L447.8 318.9L450.6 321.0L453.9 321.5L456.8 319.4L459.4 320.1L457.3 323.1L457.4 332.6L458.7 334.8L459.6 340.8L453.1 342.7L449.7 339.5L449.5 338.2L441.0 333.0L441.0 330.1L442.4 327.5L443.5 325.4L442.1 321.3L441.2 319.4Z" fill="#4eb3d3"/>
<path d="M441.2 319.4L442.1 321.3L443.5 325.4L442.4 327.5L441.0 330.1L441.0 333.0L433.2 333.1L431.1 334.1L431.1 331.7L431.4 330.1L431.8 328.6L432.5 327.3L435.0 324.7L433.8 324.1L433.9 321.3L434.7 320.5L437.0 321.0L438.9 320.2Z" fill="#7bccc4"/>
<path d="M453.1 342.7L449.7 339.5L449.5 338.2L441.0 333.0L433.2 333.1L434.0 334.6L434.0 336.4L433.2 336.7L433.8 339.0L432.0 341.6L430.3 342.0L430.8 346.1L432.8 350.0L433.5 351.8L436.4 354.1L438.5 354.9L440.7 355.2L442.1 356.5L442.1 360.7L444.4 360.7L446.5 360.9L448.8 360.9L451.1 360.1L455.5 357.8L459.3 356.5L459.6 342.1Z" fill="#7bccc4"/>
<path d="M391.0 345.4L391.7 344.0L393.1 342.4L393.7 343.2L396.0 343.2L397.9 341.9L399.5 340.6L400.2 336.1L401.6 333.5L403.9 331.4L404.1 328.1L404.6 324.4L405.7 321.3L405.7 319.2L407.5 317.1L410.3 318.9L414.5 319.7L415.6 317.9L419.1 317.1L421.6 316.6L426.0 317.1L428.3 319.2L429.7 318.7L432.0 318.9L433.9 321.3L433.8 324.1L435.0 324.7L432.5 327.3L431.8 328.6L431.4 330.1L431.1 331.7L431.1 334.1L429.7 335.4L429.5 336.9L429.9 337.7L429.7 339.0L430.3 342.0L430.8 346.1L432.8 350.0L433.5 351.8L429.3 352.6L428.1 354.7L428.7 358.3L427.9 361.4L429.3 362.8L431.1 362.2L431.0 365.4L429.2 365.4L427.9 363.0L425.8 362.2L422.4 361.4L420.9 359.6L418.8 360.1L417.9 358.8L413.8 359.6L414.0 357.5L412.9 355.2L413.2 351.8L413.0 349.4L407.7 348.7L407.5 351.3L403.3 351.5L401.1 345.8L392.8 345.8L391.4 346.1L389.4 346.1Z" fill="#4eb3d3"/>
<path d="M433.2 333.1L431.1 334.1L429.7 335.4L429.5 336.9L429.9 337.7L431.8 337.2L433.2 336.7L434.0 336.4L434.0 334.6Z" fill="#4eb3d3"/>
<path d="M429.9 337.7L429.7 339.0L430.3 342.0L432.0 341.6L433.8 339.0L433.2 336.7L431.8 337.2Z" fill="#4eb3d3"/>
<path d="M391.4 346.1L392.8 345.8L401.1 345.8L403.3 351.5L407.5 351.3L407.7 348.7L413.0 349.4L413.2 351.8L412.9 355.2L414.0 357.5L413.8 359.6L417.9 358.8L417.8 364.3L413.2 364.3L413.0 372.7L416.1 376.3L411.5 377.1L405.0 375.8L394.7 375.8L393.4 374.8L389.7 375.5L385.6 375.5L385.9 346.1Z" fill="#4eb3d3"/>
<path d="M390.5 343.4L392.4 341.9L393.1 342.4L391.7 344.0L391.0 345.4L388.2 345.4L388.2 343.4Z" fill="#4eb3d3"/>
<path d="M433.5 351.8L429.3 352.6L428.1 354.7L428.7 358.3L427.9 361.4L429.3 362.8L431.1 362.2L431.0 365.4L429.2 365.4L427.9 363.0L425.8 362.2L422.4 361.4L420.9 359.6L418.8 360.1L417.9 358.8L417.8 364.3L413.2 364.3L413.0 372.7L416.1 376.3L418.6 376.1L420.4 376.8L424.2 377.4L426.6 374.2L428.7 372.1L432.2 371.1L431.8 369.5L438.7 366.9L437.6 365.9L438.4 363.0L439.2 360.7L439.2 358.6L438.5 354.9L436.4 354.1Z" fill="#4eb3d3"/>
<path d="M438.5 354.9L439.2 358.6L439.2 360.7L438.4 363.0L437.6 365.9L438.7 366.9L441.4 368.2L441.1 371.6L442.5 374.2L443.2 375.0L444.5 372.1L444.6 368.5L442.7 365.6L442.1 363.0L442.1 360.7L442.1 356.5L440.7 355.2Z" fill="#7bccc4"/>
<path d="M455.5 357.8L451.1 360.1L448.8 360.9L446.5 360.9L444.4 360.7L442.1 360.7L442.1 363.0L442.7 365.6L444.6 368.5L444.5 372.1L443.2 375.0L442.5 374.2L441.1 371.6L441.4 368.2L438.7 366.9L431.8 369.5L432.2 371.1L432.2 372.1L434.2 372.1L437.8 374.0L437.6 377.4L437.0 380.0L437.4 382.6L436.1 386.0L433.4 388.8L434.7 394.1L434.5 398.0L434.5 400.3L436.3 400.3L456.6 400.8L461.6 356.5Z" fill="#4eb3d3"/>
<path d="M420.4 376.8L424.2 377.4L426.6 374.2L428.7 372.1L432.2 371.1L432.2 372.1L434.2 372.1L437.8 374.0L437.6 377.4L437.0 380.0L437.4 382.6L436.1 386.0L433.4 388.8L429.2 388.3L426.1 386.8L425.5 383.9L422.3 381.3Z" fill="#4eb3d3"/>
<path d="M420.4 376.8L422.3 381.3L425.5 383.9L426.1 386.8L429.2 388.3L426.7 389.4L423.6 392.0L421.2 394.8L420.0 397.5L416.6 397.2L414.4 396.4L412.1 399.0L409.3 400.3L407.8 395.1L408.0 387.8L410.3 387.8L410.6 378.1L415.8 377.4L417.4 377.9Z" fill="#7bccc4"/>
<path d="M389.7 375.5L393.4 374.8L394.7 375.8L405.0 375.8L411.5 377.1L416.1 376.3L418.6 376.1L420.4 376.8L417.4 377.9L415.8 377.4L410.6 378.1L410.3 387.8L408.0 387.8L407.8 395.1L407.3 404.5L405.1 405.8L401.5 405.3L399.5 405.0L391.7 406.1L385.6 375.5Z" fill="#4eb3d3"/>
<path d="M399.5 405.0L401.5 405.3L405.1 405.8L407.3 404.5L407.8 395.1L409.3 400.3L412.1 399.0L414.4 396.4L416.6 397.2L420.0 397.5L421.2 394.8L423.6 392.0L426.7 389.4L429.2 388.3L433.4 388.8L434.7 394.1L434.5 398.0L434.5 400.3L436.3 400.3L441.0 400.8L436.1 426.9L395.2 426.9Z" fill="#4eb3d3"/>
<path d="M433.2 397.6L434.5 398.0L434.5 400.3L434.0 401.6L432.0 401.4L431.7 400.1L432.0 398.2Z" fill="#4eb3d3"/>
<path d="M426.4 405.0L428.1 407.1L427.3 408.4L425.2 410.2L423.5 409.5L422.7 407.6L424.4 405.8Z" fill="#4eb3d3"/>
</g>
<path d="M350.1 237.0L351.4 236.7L356.4 238.3L358.1 238.8L361.6 237.3L365.7 235.2L369.4 234.4L373.9 234.4L377.8 234.1L379.7 234.1L381.4 234.1L384.2 233.1L386.6 233.6L385.8 235.4L385.8 237.0L386.4 239.9L384.9 241.9L386.9 242.5L388.3 243.8L391.8 244.6L396.0 245.9L399.5 249.0L404.9 251.3L407.0 250.0L407.0 246.6L410.4 244.6L412.4 244.8L415.6 246.6L418.3 247.9L422.8 248.5L426.6 249.8L428.8 249.0L431.1 247.9L434.0 248.7L437.4 249.3L438.2 248.7L440.2 253.4L439.0 258.1L436.6 255.8L434.8 252.4L435.2 254.7L438.3 259.4L439.6 262.3L442.7 267.8L443.3 270.4L446.1 273.0L447.2 279.3L447.7 280.6L450.3 283.4L452.9 289.7L454.2 291.3L457.0 292.6L460.5 296.5L461.5 297.3L462.3 299.1L460.7 300.1L461.8 300.4L463.8 303.0L466.1 303.3L470.6 301.4L475.6 300.9L480.4 299.6L480.3 303.3L479.5 306.9L477.3 309.5L475.6 313.4L474.5 316.6L471.1 320.5L467.3 325.2L464.3 327.8L460.8 331.4L458.7 334.8L457.1 336.4L455.2 338.7L454.3 341.1L452.9 343.7L452.1 346.6L453.5 348.4L453.2 351.3L453.8 353.9L455.1 357.3L455.7 359.1L455.5 364.3L456.0 369.5L453.8 372.9L449.8 375.3L446.9 377.1L445.2 379.5L441.7 382.1L442.0 384.1L442.8 386.8L442.7 392.8L441.7 394.6L438.2 395.9L435.8 398.0L436.3 400.3L435.1 404.5L434.2 405.5L431.5 408.4L429.5 411.3L427.8 412.9L424.0 416.5L420.7 418.6L418.7 419.1L416.9 419.6L411.1 419.6L406.4 421.2L403.8 420.2L403.0 418.9L402.1 416.5L403.1 414.2L401.1 410.0L400.4 406.8L399.5 405.0L396.8 400.6L396.3 395.6L395.5 390.4L395.2 387.8L393.2 383.9L391.3 379.5L389.7 375.5L389.8 372.1L390.7 370.1L391.5 365.6L393.6 363.3L394.5 359.1L393.2 353.4L392.3 348.7L391.2 346.1L391.0 345.0L390.5 343.4L390.1 342.4L388.2 340.3L385.9 337.7L384.1 334.8L382.9 332.2L384.6 330.9L384.6 329.4L385.0 327.8L385.5 325.4L385.5 322.8L385.0 320.2L383.4 318.7L382.0 318.4L379.0 318.9L376.7 319.2L375.1 316.8L373.2 314.0L370.7 313.7L368.4 314.0L365.7 314.5L362.4 316.0L358.1 318.1L355.5 317.1L353.7 316.6L349.1 317.6L345.2 318.9L341.7 316.3L338.1 314.0L334.2 311.1L332.6 308.2L331.5 305.6L329.0 302.0L328.3 301.7L327.2 299.4L324.7 298.0L324.5 295.4L325.0 294.1L323.0 292.0L325.3 288.7L326.6 283.2L326.0 279.8L324.5 275.9L324.8 273.5L326.9 268.6L329.5 265.2L330.5 262.3L333.5 259.4L334.2 257.6L338.2 255.8L340.3 253.7L341.7 251.1L341.3 248.2L342.7 246.1L346.3 242.7L348.1 241.7L349.4 238.6Z" fill="none"/>
<g clip-path="url(#cp_africa)" stroke="#dcdcdc" stroke-opacity="1" stroke-width="1"><path d="M343.6 258.2L343.5 262.6L336.1 262.6L335.9 269.3L333.6 270.4L333.5 274.7L324.7 274.7L324.2 276.1L317.7 276.1L318.4 258.2Z" fill="url(#hatchm)"/></g>
<path d="M475.8 361.7L477.2 365.6L478.1 370.6L476.4 372.1L475.5 374.8L475.1 377.4L473.4 382.6L471.1 388.3L468.5 395.4L464.1 397.2L461.6 395.6L461.0 391.7L460.3 388.3L462.2 383.9L463.4 382.3L462.7 378.7L463.0 375.3L465.2 372.7L468.4 371.6L470.6 369.3L472.3 366.9L474.2 365.1L474.8 362.8Z" fill="#4eb3d3"/>
<path d="M185.2 307.7L186.5 309.5L187.7 307.2L189.4 305.4L189.8 303.3L191.5 301.4L192.9 300.9L195.9 300.4L198.8 298.0L199.9 298.8L199.6 299.6L198.2 301.2L198.8 302.5L198.8 306.4L200.0 304.8L199.5 302.0L202.1 300.7L202.2 298.8L203.0 300.4L205.7 300.9L207.0 303.0L209.5 302.7L211.3 302.7L213.3 304.0L214.5 304.0L215.7 303.0L220.8 302.5L218.9 303.3L219.5 304.0L222.9 305.6L223.3 308.0L225.1 308.5L227.3 310.0L229.1 312.7L231.3 314.7L235.9 315.0L238.7 315.3L242.5 317.6L244.1 319.2L245.0 319.4L246.1 324.7L247.9 327.8L246.3 330.4L247.7 330.9L251.1 331.2L251.4 333.8L254.6 332.2L258.1 334.1L260.2 335.1L261.1 337.4L262.7 336.7L266.6 338.0L270.8 337.7L274.3 340.1L277.3 342.9L281.4 343.7L281.9 345.5L282.9 348.9L282.7 351.5L281.0 355.7L278.1 358.8L274.9 364.3L273.9 369.0L274.1 373.2L273.8 376.6L272.9 380.0L271.7 383.4L270.4 387.8L268.3 390.2L265.7 390.4L262.3 391.2L258.9 393.0L255.7 395.6L254.3 397.2L254.9 402.4L254.5 405.0L252.7 406.8L251.1 411.3L248.5 414.2L246.3 418.3L243.6 421.5L240.7 421.5L237.1 420.4L235.5 419.1L235.8 420.7L238.9 423.0L240.4 425.1L239.6 429.5L237.4 431.1L232.7 432.1L229.8 431.6L231.4 436.0L229.9 437.6L225.4 436.8L226.0 439.4L229.5 440.7L229.9 441.9L228.5 442.2L227.1 443.2L227.7 446.6L225.7 448.1L224.3 449.9L224.8 451.4L227.1 452.7L229.3 454.5L227.1 458.6L226.2 460.6L226.5 464.3L228.5 466.1L227.8 466.8L229.6 467.8L231.4 469.8L234.8 471.6L237.1 472.1L235.0 473.1L234.4 475.0L230.7 474.0L226.1 472.6L222.3 470.3L219.4 468.3L216.8 467.3L214.6 464.1L212.1 460.4L210.2 456.5L211.6 455.0L208.4 452.0L209.8 449.7L208.3 445.0L208.1 443.0L207.3 439.4L206.8 436.8L206.9 434.5L204.9 428.7L205.3 426.4L205.5 423.0L206.2 416.5L205.3 411.3L205.1 408.4L204.1 404.8L205.0 401.1L205.0 396.7L204.6 392.0L204.6 387.8L204.0 383.1L203.4 378.7L200.9 376.3L197.5 374.0L191.4 370.6L188.6 366.7L186.4 361.7L184.8 358.6L182.5 354.1L181.4 351.5L179.2 348.4L176.4 346.1L175.8 342.7L177.5 339.5L178.9 337.2L178.0 337.2L176.3 336.1L176.5 333.0L178.3 330.4L178.3 328.3L179.3 327.8L181.4 326.2L182.3 323.6L185.2 320.5L184.6 316.0L184.9 313.2L183.9 311.6L185.5 309.8Z" fill="#a8ddb5" stroke="none"/>
<g clip-path="url(#cp_samerica)">
<path d="M183.9 311.6L185.5 309.8L185.2 307.7L186.8 296.5L200.5 296.5L199.6 299.5L197.2 301.4L195.4 304.8L195.3 306.4L196.4 308.7L196.5 311.1L197.4 312.1L201.8 312.1L203.3 314.5L207.7 314.2L206.9 316.6L206.8 318.7L207.9 321.5L206.5 323.1L208.1 324.4L208.8 327.3L208.3 326.0L206.5 325.8L205.8 325.3L202.1 326.0L202.0 327.6L203.7 328.7L201.5 329.0L201.5 330.9L203.0 333.0L201.9 341.4L200.1 340.3L201.6 337.4L197.5 336.1L195.0 336.7L193.1 333.8L190.5 330.9L189.6 330.7L188.7 330.1L187.1 329.4L184.5 329.4L183.9 328.3L181.3 326.7L176.3 326.7L176.7 311.6Z" fill="#a8ddb5"/>
<path d="M199.6 299.5L197.2 301.4L195.4 304.8L195.3 306.4L196.4 308.7L196.5 311.1L197.4 312.1L201.8 312.1L203.3 314.5L207.7 314.2L206.9 316.6L206.8 318.7L207.9 321.5L206.5 323.1L208.1 324.4L208.8 327.3L210.1 328.4L211.7 327.8L212.4 328.1L215.5 325.4L216.9 324.7L215.5 323.9L215.1 321.0L214.4 319.7L218.1 320.7L218.5 320.0L222.5 318.7L223.2 316.8L221.7 315.0L222.4 312.9L224.3 311.9L223.4 310.8L225.5 309.0L225.1 308.5L227.5 304.3L223.4 296.5L200.5 296.5Z" fill="#7bccc4"/>
<path d="M225.1 308.5L225.5 309.0L223.4 310.8L224.3 311.9L222.4 312.9L221.7 315.0L223.2 316.8L224.6 316.8L225.5 318.9L225.9 320.2L224.9 323.4L224.9 324.4L227.0 327.0L229.3 326.5L232.7 325.4L231.0 321.8L229.4 320.0L229.6 317.9L231.0 316.6L231.6 315.0L233.1 310.8L227.5 305.6Z" fill="#7bccc4"/>
<path d="M231.6 315.0L231.0 316.6L229.6 317.9L229.4 320.0L231.0 321.8L232.7 325.4L234.1 325.4L234.1 323.9L237.1 324.3L238.1 322.1L237.7 320.0L237.7 317.4L238.7 315.3L238.8 310.8L233.1 310.8Z" fill="#7bccc4"/>
<path d="M238.7 315.3L237.7 317.4L237.7 320.0L238.1 322.1L237.1 324.3L239.0 324.4L241.0 324.7L242.2 322.3L244.0 319.7L246.7 317.4L238.8 310.8Z" fill="url(#hatchm)"/>
<path d="M181.3 326.7L183.9 328.3L184.5 329.4L187.1 329.4L188.7 330.1L189.6 330.7L189.6 332.9L188.7 334.6L186.5 337.2L183.7 338.2L182.6 339.5L181.1 343.4L179.7 342.1L177.8 341.9L178.3 340.6L178.0 339.3L171.8 339.3L171.7 326.7Z" fill="#7bccc4"/>
<path d="M178.0 339.3L178.3 340.6L177.8 341.9L179.7 342.1L181.1 343.4L182.6 339.5L183.7 338.2L186.5 337.2L188.7 334.6L189.6 332.9L189.6 330.7L190.5 330.9L193.1 333.8L195.0 336.7L197.5 336.1L201.6 337.4L200.1 340.3L201.9 341.4L199.9 341.4L195.1 343.7L194.5 346.3L194.8 347.6L193.5 349.4L192.9 350.0L195.3 353.9L197.3 356.5L200.9 355.2L201.1 359.1L203.4 359.0L205.7 363.0L205.2 366.1L204.5 369.0L204.8 370.3L205.1 370.8L204.3 372.1L205.8 372.9L204.7 375.5L204.9 376.1L203.1 378.3L199.8 381.3L167.4 346.1L171.8 339.3Z" fill="#7bccc4"/>
<path d="M221.7 388.5L221.3 387.8L217.8 389.6L215.9 388.1L213.3 387.3L212.0 389.4L211.6 389.9L187.2 389.9L216.7 480.1L269.2 480.1L254.7 424.3L241.5 423.0L235.4 419.1L235.3 415.2L235.3 412.6L235.5 409.2L238.7 404.5L240.8 402.2L242.9 401.1L242.9 398.8L240.6 397.2L240.6 400.1L238.8 401.9L237.3 402.2L232.3 401.6L233.9 397.2L231.0 395.1L228.1 393.0L225.8 392.5Z" fill="#ccebc5"/>
<path d="M235.5 409.2L239.3 410.8L240.3 411.0L244.2 413.6L245.6 415.2L246.3 418.3L249.7 420.4L246.1 424.3L241.5 423.0L235.4 419.1L235.3 415.2L235.3 412.6Z" fill="#ccebc5"/>
<path d="M231.3 383.0L232.3 388.1L236.7 388.6L237.6 389.4L238.4 392.8L240.9 393.0L240.6 397.2L240.6 400.1L238.8 401.9L237.3 402.2L232.3 401.6L233.9 397.2L231.0 395.1L228.1 393.0L225.8 392.5L221.7 388.5L223.1 381.5L229.0 380.8Z" fill="#a8ddb5"/>
<path d="M203.4 359.0L206.4 359.1L210.1 356.2L212.8 355.7L213.2 358.8L213.4 360.9L215.5 362.8L218.8 363.5L221.2 364.8L223.5 365.6L224.9 366.4L225.8 372.9L229.9 372.9L230.4 375.5L232.1 377.4L231.8 380.0L231.1 382.1L231.3 383.0L229.0 380.8L223.1 381.5L221.7 388.5L221.3 387.8L217.8 389.6L215.9 388.1L213.3 387.3L212.0 389.4L211.6 389.9L209.9 389.1L208.9 386.0L208.0 384.1L207.6 382.3L206.7 380.0L206.0 377.9L204.9 376.1L204.7 375.5L205.8 372.9L204.3 372.1L205.1 370.8L204.8 370.3L204.5 369.0L205.2 366.1L205.7 363.0Z" fill="#4eb3d3"/>
<path d="M204.9 376.1L206.0 377.9L206.7 380.0L207.6 382.3L208.0 384.1L208.9 386.0L209.9 389.1L211.6 389.9L211.7 393.0L209.4 394.3L209.9 401.1L208.2 404.5L208.2 409.7L207.6 411.8L209.9 417.3L210.8 419.6L209.9 422.2L210.7 424.6L209.6 426.1L211.3 431.6L210.3 433.7L211.2 437.3L211.7 440.7L213.9 444.8L214.8 447.1L215.9 448.4L216.2 452.0L215.8 453.7L216.5 456.5L215.4 459.1L217.6 462.4L219.0 462.1L220.1 464.6L221.3 465.3L225.0 465.3L228.5 466.2L228.4 467.0L230.8 472.6L235.0 473.0L239.2 480.1L214.8 480.1L183.3 376.1L203.1 378.3Z" fill="#ccebc5"/>
</g>
<path d="M185.2 307.7L186.5 309.5L187.7 307.2L189.4 305.4L189.8 303.3L191.5 301.4L192.9 300.9L195.9 300.4L198.8 298.0L199.9 298.8L199.6 299.6L198.2 301.2L198.8 302.5L198.8 306.4L200.0 304.8L199.5 302.0L202.1 300.7L202.2 298.8L203.0 300.4L205.7 300.9L207.0 303.0L209.5 302.7L211.3 302.7L213.3 304.0L214.5 304.0L215.7 303.0L220.8 302.5L218.9 303.3L219.5 304.0L222.9 305.6L223.3 308.0L225.1 308.5L227.3 310.0L229.1 312.7L231.3 314.7L235.9 315.0L238.7 315.3L242.5 317.6L244.1 319.2L245.0 319.4L246.1 324.7L247.9 327.8L246.3 330.4L247.7 330.9L251.1 331.2L251.4 333.8L254.6 332.2L258.1 334.1L260.2 335.1L261.1 337.4L262.7 336.7L266.6 338.0L270.8 337.7L274.3 340.1L277.3 342.9L281.4 343.7L281.9 345.5L282.9 348.9L282.7 351.5L281.0 355.7L278.1 358.8L274.9 364.3L273.9 369.0L274.1 373.2L273.8 376.6L272.9 380.0L271.7 383.4L270.4 387.8L268.3 390.2L265.7 390.4L262.3 391.2L258.9 393.0L255.7 395.6L254.3 397.2L254.9 402.4L254.5 405.0L252.7 406.8L251.1 411.3L248.5 414.2L246.3 418.3L243.6 421.5L240.7 421.5L237.1 420.4L235.5 419.1L235.8 420.7L238.9 423.0L240.4 425.1L239.6 429.5L237.4 431.1L232.7 432.1L229.8 431.6L231.4 436.0L229.9 437.6L225.4 436.8L226.0 439.4L229.5 440.7L229.9 441.9L228.5 442.2L227.1 443.2L227.7 446.6L225.7 448.1L224.3 449.9L224.8 451.4L227.1 452.7L229.3 454.5L227.1 458.6L226.2 460.6L226.5 464.3L228.5 466.1L227.8 466.8L229.6 467.8L231.4 469.8L234.8 471.6L237.1 472.1L235.0 473.1L234.4 475.0L230.7 474.0L226.1 472.6L222.3 470.3L219.4 468.3L216.8 467.3L214.6 464.1L212.1 460.4L210.2 456.5L211.6 455.0L208.4 452.0L209.8 449.7L208.3 445.0L208.1 443.0L207.3 439.4L206.8 436.8L206.9 434.5L204.9 428.7L205.3 426.4L205.5 423.0L206.2 416.5L205.3 411.3L205.1 408.4L204.1 404.8L205.0 401.1L205.0 396.7L204.6 392.0L204.6 387.8L204.0 383.1L203.4 378.7L200.9 376.3L197.5 374.0L191.4 370.6L188.6 366.7L186.4 361.7L184.8 358.6L182.5 354.1L181.4 351.5L179.2 348.4L176.4 346.1L175.8 342.7L177.5 339.5L178.9 337.2L178.0 337.2L176.3 336.1L176.5 333.0L178.3 330.4L178.3 328.3L179.3 327.8L181.4 326.2L182.3 323.6L185.2 320.5L184.6 316.0L184.9 313.2L183.9 311.6L185.5 309.8Z" fill="none"/>
<g clip-path="url(#cp_samerica)" stroke="#dcdcdc" stroke-opacity="1" stroke-width="1"><path d="M238.7 315.3L237.7 317.4L237.7 320.0L238.1 322.1L237.1 324.3L239.0 324.4L241.0 324.7L242.2 322.3L244.0 319.7L246.7 317.4L238.8 310.8Z" fill="url(#hatchm)"/></g>
<path d="M220.9 304.0L223.0 304.0L223.3 302.2L221.0 302.5Z" fill="#a8ddb5"/>
<path d="M185.2 307.7L183.9 306.1L181.6 305.5L179.5 305.9L177.4 307.2L175.8 307.4L174.2 306.1L173.3 305.4L172.5 304.3L171.3 302.0L171.3 299.1L172.0 296.5L172.4 293.9L173.1 291.3L171.5 289.2L169.3 288.7L166.9 288.9L165.1 289.2L162.6 289.2L160.3 288.9L161.9 287.3L162.4 284.7L163.0 282.4L163.6 282.7L164.7 279.5L165.2 277.4L166.8 275.1L166.3 274.0L163.8 274.0L160.3 274.8L158.6 275.6L158.0 278.7L156.6 280.8L154.6 281.9L152.4 281.9L148.6 282.9L146.9 281.6L145.1 280.3L144.6 278.5L143.0 275.6L142.5 272.2L143.4 267.8L145.0 263.9L145.6 262.7L146.2 258.4L148.5 256.3L152.7 254.0L155.2 252.9L158.5 253.2L160.7 254.2L162.8 254.5L164.6 254.7L164.9 251.9L168.4 251.3L170.2 251.1L173.2 251.6L174.0 252.9L176.7 251.9L178.1 253.4L178.8 254.5L178.8 257.9L179.4 260.7L180.0 262.3L181.1 264.9L182.7 264.6L183.7 263.1L184.4 260.5L184.1 256.0L183.0 251.3L185.0 246.9L187.8 245.1L192.7 241.9L196.4 240.1L199.0 238.6L199.4 234.1L198.5 233.4L199.9 230.0L200.3 232.3L202.1 230.5L202.2 228.2L203.0 228.9L204.4 227.6L206.1 225.0L208.4 224.3L210.8 223.5L208.9 223.0L212.5 222.2L215.6 221.7L215.4 220.9L214.4 220.9L214.3 219.9L215.2 219.1L216.7 216.8L219.6 215.8L224.3 213.7L226.7 212.7L230.3 211.4L229.3 212.4L226.2 214.5L225.4 216.3L226.2 217.3L231.2 214.2L237.1 212.4L239.7 210.9L239.5 208.1L236.6 210.9L234.0 211.4L231.5 210.6L230.7 210.1L230.4 207.8L231.4 206.0L228.5 205.5L233.5 203.5L231.2 202.5L226.9 203.2L221.9 206.0L217.5 208.6L221.7 205.3L225.8 202.5L230.3 199.9L235.2 199.7L239.5 199.9L244.3 199.2L249.9 197.0L253.3 195.0L254.1 192.2L252.1 191.2L251.9 189.0L247.5 186.8L245.7 184.3L247.1 181.4L245.9 179.0L244.8 174.9L241.8 177.0L240.1 178.7L235.6 179.2L233.6 178.3L235.0 175.8L236.4 173.5L232.6 172.1L230.2 170.7L223.1 169.7L221.9 171.1L221.4 174.4L220.6 175.8L217.2 179.5L217.3 183.1L217.0 185.1L213.6 187.2L209.0 189.0L208.5 193.0L208.1 195.5L206.7 197.0L203.5 197.2L202.6 195.0L202.0 193.0L204.8 187.5L199.7 187.2L195.8 185.5L194.5 183.4L188.4 183.1L187.6 178.7L191.6 173.2L198.0 169.3L201.3 168.1L207.2 166.5L210.9 164.1L214.4 160.7L217.9 161.2L223.2 158.5L226.6 155.6L226.8 153.4L221.0 153.4L215.1 155.6L211.3 156.3L210.5 152.9L210.3 148.7L205.9 150.8L202.7 153.4L202.0 156.3L205.1 155.6L198.6 156.3L195.2 157.4L189.7 157.8L185.0 157.4L177.9 159.6L179.5 156.9L176.3 157.6L167.5 157.8L169.2 155.4L165.2 155.2L161.8 153.6L156.4 152.9L152.5 152.3L152.5 151.6L147.1 153.4L141.1 154.3L136.2 154.9L132.3 155.4L131.4 154.0L128.4 153.7L125.5 152.7L118.2 152.1L113.7 151.2L108.3 150.0L102.2 151.2L95.8 152.3L92.0 153.6L84.2 155.4L81.3 156.7L83.3 158.1L82.8 159.4L84.3 160.5L79.5 161.6L79.8 160.5L76.3 161.2L70.5 162.8L72.2 163.7L71.8 165.3L76.3 165.0L79.5 165.3L78.2 166.7L74.9 167.6L67.2 169.7L62.5 171.6L60.7 174.7L60.1 175.8L63.8 175.8L62.0 178.3L60.5 179.2L65.0 178.3L68.5 178.3L70.5 179.0L65.4 181.9L62.7 183.4L56.5 185.5L50.6 187.2L45.8 189.5L49.5 188.6L52.1 188.0L56.3 186.8L60.5 185.5L61.5 184.8L67.0 183.1L71.9 181.2L75.0 180.0L78.6 177.5L84.5 174.7L86.8 173.5L90.0 173.0L84.0 175.8L83.0 176.8L84.1 177.5L87.9 175.8L91.7 174.0L96.3 173.2L96.0 174.7L97.8 175.8L104.4 177.0L107.3 180.2L106.9 183.1L107.3 185.5L106.9 188.0L110.2 188.7L110.7 189.7L110.7 193.0L110.9 195.0L109.8 198.0L112.9 200.4L115.5 202.2L115.7 203.0L113.9 206.8L113.8 205.3L110.9 204.5L109.6 208.3L108.7 210.1L106.2 214.2L102.5 218.9L99.2 225.0L98.8 228.9L100.1 231.8L99.9 234.9L100.6 240.4L104.5 241.7L106.1 245.1L106.6 247.4L107.0 251.1L106.7 257.9L108.0 259.7L109.5 260.7L111.7 262.6L111.2 265.7L113.5 267.8L115.5 270.6L116.8 269.3L115.2 267.3L114.9 265.2L114.0 262.6L112.6 259.2L112.2 256.3L111.1 254.7L110.2 252.1L109.8 249.5L110.5 247.4L112.9 248.7L113.5 251.6L114.2 254.0L114.5 255.3L116.1 257.6L118.0 260.7L118.2 263.6L120.5 266.2L123.5 269.9L125.2 274.3L124.8 276.7L123.8 277.2L126.4 280.6L130.8 283.4L135.6 286.6L141.7 288.9L142.9 289.4L146.1 288.1L148.7 288.7L152.2 292.6L154.1 294.1L157.0 294.7L157.7 294.9L159.9 296.0L162.2 296.0L163.1 295.4L163.3 296.5L163.4 297.8L164.8 299.6L166.1 301.2L166.5 302.0L165.9 303.3L167.6 305.4L168.3 304.3L168.3 304.6L169.7 305.9L170.7 308.5L172.3 308.7L172.5 309.5L174.1 309.0L175.6 310.3L177.0 311.6L179.1 311.1L178.2 309.0L180.4 307.2L182.6 308.0L182.8 309.3L183.2 310.8L183.9 311.6L185.5 309.8Z" fill="#e0f3db" stroke="none"/>
<g clip-path="url(#cp_namerica)">
<path d="M115.7 203.0L171.2 203.0L172.1 203.8L176.8 204.8L181.3 205.5L184.1 204.8L189.6 208.3L190.2 209.4L191.4 210.4L191.3 211.1L192.8 212.4L192.0 216.8L190.8 218.3L190.2 219.4L188.5 220.4L188.3 220.9L188.9 221.7L192.3 220.4L195.3 219.6L197.7 218.9L198.1 217.6L197.9 217.2L199.0 216.8L203.0 216.8L204.3 215.5L205.9 214.5L208.6 213.2L215.2 213.2L215.6 212.7L217.0 212.2L218.5 210.9L218.8 210.1L219.9 208.8L222.2 206.9L223.9 207.2L224.7 207.8L223.6 211.1L223.9 212.7L224.4 213.4L237.6 218.3L205.3 270.4L146.8 270.4L148.2 262.7L145.6 262.7L141.5 261.5L141.3 258.6L139.7 255.5L138.4 252.6L136.2 252.6L133.9 254.7L131.4 253.2L131.1 250.6L128.8 247.4L125.0 247.4L124.6 248.7L118.2 248.7L111.2 245.6L111.6 245.1L106.1 245.6L99.3 246.9L86.8 226.1L101.2 203.0Z" fill="#e0f3db"/>
<path d="M128.4 153.7L104.1 175.1L106.9 175.6L107.3 178.3L113.0 176.3L113.6 178.7L113.3 183.1L114.9 185.5L112.3 188.0L110.8 188.7L103.9 191.7L22.8 200.4L38.9 175.8L92.0 146.6L138.2 146.6Z" fill="#e0f3db"/>
<path d="M145.6 262.7L141.5 261.5L141.3 258.6L139.7 255.5L138.4 252.6L136.2 252.6L133.9 254.7L131.4 253.2L131.1 250.6L128.8 247.4L125.0 247.4L124.6 248.7L118.2 248.7L111.2 245.6L111.6 245.1L106.1 245.6L99.3 246.9L95.8 278.2L134.0 299.1L152.1 296.5L152.4 292.6L152.6 291.0L154.0 288.4L157.0 288.4L157.1 287.6L155.1 285.4L156.0 285.4L156.2 284.0L160.4 284.0L161.0 283.7L162.5 282.1L168.9 282.1L170.4 270.4L160.7 267.8L149.4 267.8L147.0 262.7Z" fill="#7bccc4"/>
<path d="M152.4 292.6L152.6 291.0L154.0 288.4L157.0 288.4L157.1 287.6L155.1 285.4L156.0 285.4L156.2 284.0L160.4 284.0L159.7 288.9L160.3 288.9L161.3 288.4L161.9 289.4L159.3 291.5L158.9 292.8L157.0 294.5L154.8 297.0L150.3 295.2Z" fill="#4eb3d3"/>
<path d="M160.4 284.0L161.0 283.7L162.5 282.1L164.8 282.1L164.0 288.8L160.3 288.9L159.7 288.9Z" fill="#a8ddb5"/>
<path d="M161.9 289.4L159.3 291.5L158.9 292.8L160.7 293.9L161.9 294.1L162.4 295.4L162.2 295.7L162.8 297.0L163.3 296.5L164.5 295.7L164.8 294.4L166.9 294.1L168.9 292.3L170.0 292.0L173.1 291.3L174.7 290.7L174.1 286.0L162.7 286.0Z" fill="#a8ddb5"/>
<path d="M158.9 292.8L160.7 293.9L161.9 294.1L162.4 295.4L162.2 295.7L161.6 297.5L155.9 296.5L157.0 294.5Z" fill="#7bccc4"/>
<path d="M163.3 296.5L164.5 295.7L164.8 294.4L166.9 294.1L168.9 292.3L170.0 292.0L173.1 291.3L174.7 291.3L173.1 302.0L171.2 302.0L170.4 302.2L168.3 301.7L166.5 301.4L164.6 302.7L160.4 297.8Z" fill="#7bccc4"/>
<path d="M166.5 301.4L168.3 301.7L170.4 302.2L171.2 302.0L173.7 302.7L173.3 305.4L172.6 306.7L173.0 307.2L172.5 309.3L172.1 311.4L163.2 305.6Z" fill="#a8ddb5"/>
<path d="M173.3 305.4L172.6 306.7L173.0 307.2L172.5 309.3L172.3 313.4L183.8 313.4L183.9 311.6L185.5 309.8L185.2 307.7L185.6 303.5L173.7 303.5Z" fill="#7bccc4"/>
</g>
<path d="M185.2 307.7L183.9 306.1L181.6 305.5L179.5 305.9L177.4 307.2L175.8 307.4L174.2 306.1L173.3 305.4L172.5 304.3L171.3 302.0L171.3 299.1L172.0 296.5L172.4 293.9L173.1 291.3L171.5 289.2L169.3 288.7L166.9 288.9L165.1 289.2L162.6 289.2L160.3 288.9L161.9 287.3L162.4 284.7L163.0 282.4L163.6 282.7L164.7 279.5L165.2 277.4L166.8 275.1L166.3 274.0L163.8 274.0L160.3 274.8L158.6 275.6L158.0 278.7L156.6 280.8L154.6 281.9L152.4 281.9L148.6 282.9L146.9 281.6L145.1 280.3L144.6 278.5L143.0 275.6L142.5 272.2L143.4 267.8L145.0 263.9L145.6 262.7L146.2 258.4L148.5 256.3L152.7 254.0L155.2 252.9L158.5 253.2L160.7 254.2L162.8 254.5L164.6 254.7L164.9 251.9L168.4 251.3L170.2 251.1L173.2 251.6L174.0 252.9L176.7 251.9L178.1 253.4L178.8 254.5L178.8 257.9L179.4 260.7L180.0 262.3L181.1 264.9L182.7 264.6L183.7 263.1L184.4 260.5L184.1 256.0L183.0 251.3L185.0 246.9L187.8 245.1L192.7 241.9L196.4 240.1L199.0 238.6L199.4 234.1L198.5 233.4L199.9 230.0L200.3 232.3L202.1 230.5L202.2 228.2L203.0 228.9L204.4 227.6L206.1 225.0L208.4 224.3L210.8 223.5L208.9 223.0L212.5 222.2L215.6 221.7L215.4 220.9L214.4 220.9L214.3 219.9L215.2 219.1L216.7 216.8L219.6 215.8L224.3 213.7L226.7 212.7L230.3 211.4L229.3 212.4L226.2 214.5L225.4 216.3L226.2 217.3L231.2 214.2L237.1 212.4L239.7 210.9L239.5 208.1L236.6 210.9L234.0 211.4L231.5 210.6L230.7 210.1L230.4 207.8L231.4 206.0L228.5 205.5L233.5 203.5L231.2 202.5L226.9 203.2L221.9 206.0L217.5 208.6L221.7 205.3L225.8 202.5L230.3 199.9L235.2 199.7L239.5 199.9L244.3 199.2L249.9 197.0L253.3 195.0L254.1 192.2L252.1 191.2L251.9 189.0L247.5 186.8L245.7 184.3L247.1 181.4L245.9 179.0L244.8 174.9L241.8 177.0L240.1 178.7L235.6 179.2L233.6 178.3L235.0 175.8L236.4 173.5L232.6 172.1L230.2 170.7L223.1 169.7L221.9 171.1L221.4 174.4L220.6 175.8L217.2 179.5L217.3 183.1L217.0 185.1L213.6 187.2L209.0 189.0L208.5 193.0L208.1 195.5L206.7 197.0L203.5 197.2L202.6 195.0L202.0 193.0L204.8 187.5L199.7 187.2L195.8 185.5L194.5 183.4L188.4 183.1L187.6 178.7L191.6 173.2L198.0 169.3L201.3 168.1L207.2 166.5L210.9 164.1L214.4 160.7L217.9 161.2L223.2 158.5L226.6 155.6L226.8 153.4L221.0 153.4L215.1 155.6L211.3 156.3L210.5 152.9L210.3 148.7L205.9 150.8L202.7 153.4L202.0 156.3L205.1 155.6L198.6 156.3L195.2 157.4L189.7 157.8L185.0 157.4L177.9 159.6L179.5 156.9L176.3 157.6L167.5 157.8L169.2 155.4L165.2 155.2L161.8 153.6L156.4 152.9L152.5 152.3L152.5 151.6L147.1 153.4L141.1 154.3L136.2 154.9L132.3 155.4L131.4 154.0L128.4 153.7L125.5 152.7L118.2 152.1L113.7 151.2L108.3 150.0L102.2 151.2L95.8 152.3L92.0 153.6L84.2 155.4L81.3 156.7L83.3 158.1L82.8 159.4L84.3 160.5L79.5 161.6L79.8 160.5L76.3 161.2L70.5 162.8L72.2 163.7L71.8 165.3L76.3 165.0L79.5 165.3L78.2 166.7L74.9 167.6L67.2 169.7L62.5 171.6L60.7 174.7L60.1 175.8L63.8 175.8L62.0 178.3L60.5 179.2L65.0 178.3L68.5 178.3L70.5 179.0L65.4 181.9L62.7 183.4L56.5 185.5L50.6 187.2L45.8 189.5L49.5 188.6L52.1 188.0L56.3 186.8L60.5 185.5L61.5 184.8L67.0 183.1L71.9 181.2L75.0 180.0L78.6 177.5L84.5 174.7L86.8 173.5L90.0 173.0L84.0 175.8L83.0 176.8L84.1 177.5L87.9 175.8L91.7 174.0L96.3 173.2L96.0 174.7L97.8 175.8L104.4 177.0L107.3 180.2L106.9 183.1L107.3 185.5L106.9 188.0L110.2 188.7L110.7 189.7L110.7 193.0L110.9 195.0L109.8 198.0L112.9 200.4L115.5 202.2L115.7 203.0L113.9 206.8L113.8 205.3L110.9 204.5L109.6 208.3L108.7 210.1L106.2 214.2L102.5 218.9L99.2 225.0L98.8 228.9L100.1 231.8L99.9 234.9L100.6 240.4L104.5 241.7L106.1 245.1L106.6 247.4L107.0 251.1L106.7 257.9L108.0 259.7L109.5 260.7L111.7 262.6L111.2 265.7L113.5 267.8L115.5 270.6L116.8 269.3L115.2 267.3L114.9 265.2L114.0 262.6L112.6 259.2L112.2 256.3L111.1 254.7L110.2 252.1L109.8 249.5L110.5 247.4L112.9 248.7L113.5 251.6L114.2 254.0L114.5 255.3L116.1 257.6L118.0 260.7L118.2 263.6L120.5 266.2L123.5 269.9L125.2 274.3L124.8 276.7L123.8 277.2L126.4 280.6L130.8 283.4L135.6 286.6L141.7 288.9L142.9 289.4L146.1 288.1L148.7 288.7L152.2 292.6L154.1 294.1L157.0 294.7L157.7 294.9L159.9 296.0L162.2 296.0L163.1 295.4L163.3 296.5L163.4 297.8L164.8 299.6L166.1 301.2L166.5 302.0L165.9 303.3L167.6 305.4L168.3 304.3L168.3 304.6L169.7 305.9L170.7 308.5L172.3 308.7L172.5 309.5L174.1 309.0L175.6 310.3L177.0 311.6L179.1 311.1L178.2 309.0L180.4 307.2L182.6 308.0L182.8 309.3L183.2 310.8L183.9 311.6L185.5 309.8Z" fill="none"/>
<path d="M256.5 136.4L270.7 132.6L280.9 129.8L294.0 129.0L308.6 127.6L318.3 127.2L328.8 128.1L335.2 129.6L346.1 130.4L338.6 132.7L335.0 135.6L335.8 138.5L332.1 141.4L332.4 143.8L327.8 146.6L327.4 148.7L326.7 151.9L324.8 152.9L321.0 155.2L317.4 156.3L310.4 157.2L304.4 160.5L297.7 162.8L292.9 164.1L290.0 167.6L286.2 171.1L284.1 174.7L281.8 176.3L279.3 175.4L275.3 173.7L273.6 171.1L271.6 166.0L271.5 163.0L270.9 159.6L272.8 156.3L277.5 155.2L277.6 152.9L272.9 152.5L273.5 151.2L273.4 147.0L272.9 142.4L269.7 140.4L262.2 140.3L258.3 139.5L256.8 137.7Z" fill="#ccebc5"/>
<path d="M242.4 206.6L245.5 203.0L248.9 198.7L252.2 196.5L253.0 197.2L250.6 199.9L252.8 200.7L255.3 202.0L255.9 204.0L255.8 206.6L254.4 208.8L252.7 208.3L250.0 208.3L249.5 206.6L246.1 206.6Z" fill="#e0f3db"/>
<path d="M233.8 200.7L238.4 202.0L238.6 202.7L235.3 202.2Z" fill="#e0f3db"/>
<path d="M231.5 208.3L236.0 209.4L234.4 210.6L231.7 209.6Z" fill="#e0f3db"/>
<path d="M107.6 198.4L112.7 200.7L113.5 204.5L110.1 203.2L107.9 200.4Z" fill="#e0f3db"/>
<path d="M105.3 190.0L107.4 190.5L105.2 195.0L103.9 193.0Z" fill="#e0f3db"/>
<path d="M71.7 181.9L78.0 180.2L76.4 181.9L72.1 183.6Z" fill="#e0f3db"/>
<path d="M55.4 175.4L59.0 175.1L57.2 176.3L54.9 176.1Z" fill="#e0f3db"/>
<path d="M57.9 167.4L62.2 168.1L60.0 168.8L57.0 168.1Z" fill="#e0f3db"/>
<path d="M244.6 171.4L238.2 169.7L235.5 168.1L232.5 165.5L225.3 165.7L227.6 163.4L234.0 163.0L237.8 159.6L237.0 156.9L233.9 155.2L232.1 152.9L222.9 152.9L218.2 150.8L217.9 148.7L222.0 145.5L228.7 145.1L235.0 145.1L239.4 145.5L239.7 147.2L243.1 149.1L250.2 151.9L250.7 155.2L257.4 160.5L255.5 161.9L249.2 161.6L246.6 160.7L250.0 164.1L249.1 167.6L241.4 167.2Z" fill="#e0f3db"/>
<path d="M209.3 166.0L214.5 162.3L217.2 162.1L219.5 165.3L220.7 166.9L213.5 169.0L210.6 168.1L208.4 167.4Z" fill="#e0f3db"/>
<path d="M169.5 149.7L176.5 146.6L181.2 146.6L187.6 146.6L195.9 145.5L195.3 147.6L200.1 147.6L195.6 152.9L192.0 155.2L186.2 156.0L177.8 156.0L171.1 156.0L168.0 154.0L173.6 151.9L169.4 151.2Z" fill="#e0f3db"/>
<path d="M167.1 143.8L173.9 143.4L176.9 145.5L173.6 147.6L167.1 149.7L161.5 150.4L159.0 149.1L162.9 146.6Z" fill="#e0f3db"/>
<path d="M199.1 147.0L205.4 144.7L208.6 145.5L208.1 147.6L203.7 149.7L199.2 149.3Z" fill="#e0f3db"/>
<path d="M212.7 144.5L220.6 144.5L219.0 146.6L212.8 148.7L209.3 148.1Z" fill="#e0f3db"/>
<path d="M197.1 155.2L203.7 153.1L203.2 155.4L198.6 156.3Z" fill="#e0f3db"/>
<path d="M182.8 141.4L191.4 139.7L199.2 139.5L200.5 141.4L196.7 142.6L187.9 143.4L184.5 142.4Z" fill="#e0f3db"/>
<path d="M208.5 139.3L214.6 139.3L212.8 141.4L207.7 142.4L204.3 141.4Z" fill="#e0f3db"/>
<path d="M218.3 138.7L228.0 139.5L239.9 141.2L238.4 142.8L228.6 143.4L219.6 143.0L215.1 141.4Z" fill="#e0f3db"/>
<path d="M227.8 139.7L235.4 139.7L241.1 140.1L246.5 137.6L251.5 135.4L259.1 133.5L268.5 131.2L275.3 129.2L270.1 128.1L259.4 127.9L245.8 129.0L237.1 130.4L239.3 132.0L240.6 134.7L234.6 136.2L229.7 137.9Z" fill="#e0f3db"/>
<path d="M231.1 130.7L235.0 132.0L237.3 133.7L232.6 136.0L227.1 135.6L225.0 133.1Z" fill="#e0f3db"/>
<path d="M175.6 140.1L184.8 137.9L187.9 138.9L181.6 140.6Z" fill="#e0f3db"/>
<path d="M209.3 135.2L217.3 134.7L216.4 136.6L209.5 137.4Z" fill="#e0f3db"/>
<path d="M171.4 273.3L173.7 271.2L176.5 270.1L180.2 269.9L183.8 271.2L187.4 273.3L191.2 275.1L195.0 277.7L194.0 278.3L187.0 278.6L188.3 276.7L185.5 275.6L185.0 274.0L178.5 272.5L176.4 271.4L174.8 272.7Z" fill="#a8ddb5"/>
<path d="M185.0 282.4L188.2 282.1L189.8 283.4L188.2 284.0L185.3 283.4Z" fill="#a8ddb5"/>
<path d="M193.8 282.4L198.6 281.9L197.8 280.8L196.6 279.3L198.1 278.3L200.4 279.0L200.1 282.7L200.0 283.4L197.6 283.2L194.0 282.9Z" fill="#4eb3d3"/>
<path d="M200.4 279.0L204.4 279.0L206.1 280.0L207.9 281.9L206.9 282.9L204.0 282.4L201.6 284.5L200.0 283.4L200.1 282.7Z" fill="#a8ddb5"/>
<path d="M210.2 282.1L214.0 282.4L213.7 283.4L210.3 283.6Z" fill="#a8ddb5"/>
<path d="M187.4 264.9L188.6 266.0L188.5 268.3L187.7 267.0Z" fill="#a8ddb5"/>
<path d="M189.1 260.2L190.9 261.3L190.2 262.6L189.3 261.3Z" fill="#a8ddb5"/>
<path d="M9.3 279.0L10.4 277.4L12.2 279.5L9.8 281.1Z" fill="#e0f3db"/>
<path d="M8.8 275.9L10.3 275.9L9.2 276.7Z" fill="#e0f3db"/>
<path d="M5.6 274.0L6.8 274.6L5.9 274.8Z" fill="#e0f3db"/>
<path d="M2.6 272.5L3.8 272.5L3.1 273.3Z" fill="#e0f3db"/>
<path d="M405.0 150.6L409.6 151.0L414.0 152.1L414.0 153.4L418.8 154.5L423.1 154.7L427.0 156.5L430.3 157.2L433.5 159.6L433.6 161.0L429.5 161.6L423.1 160.5L418.5 159.4L420.8 161.4L424.1 165.3L427.5 166.5L429.5 164.3L434.1 165.0L432.3 162.3L436.1 160.7L438.9 161.4L435.8 156.0L441.7 157.4L442.6 159.6L445.3 158.1L452.0 155.8L454.1 156.7L459.8 156.3L463.4 153.6L471.5 154.7L475.8 156.3L474.7 152.9L472.1 150.8L472.8 147.6L474.4 146.6L478.7 147.0L482.0 150.8L486.0 155.2L487.3 158.5L488.4 156.3L486.3 151.9L482.4 148.7L483.2 147.6L487.5 148.1L491.3 150.8L492.9 148.7L490.3 145.5L497.9 142.4L503.4 140.4L511.4 139.5L518.0 137.2L523.8 138.5L535.5 140.4L537.7 141.4L540.6 144.5L535.6 144.9L533.0 146.2L542.6 145.5L554.1 146.6L558.4 145.5L563.9 145.5L571.2 148.1L577.1 150.8L579.0 149.7L583.9 149.7L587.2 148.1L587.4 146.8L592.3 147.6L606.6 149.7L612.6 151.0L628.8 153.6L631.9 154.0L647.7 155.2L645.1 152.7L655.4 153.6L663.9 155.4L664.8 155.4L678.1 164.1L676.7 165.0L674.7 164.8L683.3 168.8L685.5 170.4L679.4 171.6L676.7 173.7L676.6 176.1L667.6 175.1L664.4 176.3L667.5 180.7L673.9 185.1L674.3 188.0L675.6 188.7L675.2 192.5L673.1 193.0L674.2 198.2L669.0 194.2L662.4 188.0L657.9 183.1L658.5 180.2L659.6 179.5L660.2 175.8L658.9 171.8L657.7 170.2L656.8 171.6L653.1 171.6L650.1 171.4L647.1 171.8L647.6 173.0L648.6 177.0L641.7 177.0L637.1 177.5L628.2 177.5L626.7 181.2L625.4 184.3L627.0 188.5L625.7 189.2L631.5 190.5L636.9 192.2L638.7 192.5L641.3 195.5L641.3 196.7L645.4 203.0L645.7 208.6L644.6 214.5L641.1 218.9L638.3 218.1L637.0 220.1L635.9 221.4L637.0 223.8L635.4 226.1L634.2 226.6L634.5 228.2L637.4 229.7L641.3 233.9L642.8 236.5L643.3 238.8L641.2 239.6L638.4 240.6L636.9 237.8L635.6 234.1L634.9 232.6L633.6 232.1L631.5 231.8L630.1 231.0L630.6 229.5L628.9 227.1L627.3 226.3L624.6 227.1L622.5 228.9L621.6 227.4L621.5 224.3L618.8 224.0L617.1 226.3L614.3 228.7L615.6 230.8L618.3 232.1L619.5 233.6L622.1 231.8L626.4 232.8L625.7 234.1L623.2 236.2L622.1 239.1L622.4 239.9L625.4 242.2L627.9 245.3L631.1 247.9L631.5 249.8L629.9 251.3L633.0 252.6L632.1 257.3L630.6 262.6L628.2 266.5L625.7 269.6L620.3 272.2L618.8 272.7L615.2 274.0L612.5 275.3L612.5 277.4L610.8 275.9L610.8 274.3L609.2 274.3L606.7 274.3L604.3 276.1L602.7 280.0L602.9 281.6L605.2 284.7L608.1 287.3L609.6 288.4L612.6 294.4L613.1 299.4L610.7 302.0L608.5 303.3L607.8 305.4L603.6 308.0L603.4 304.8L604.0 304.3L602.5 303.3L600.2 302.7L598.8 300.7L598.5 299.9L597.5 298.6L594.7 297.5L593.7 296.7L592.8 295.2L591.5 295.7L591.6 297.5L591.4 299.6L590.6 303.0L591.1 306.4L592.8 308.5L594.1 311.6L596.0 312.4L597.7 314.2L600.2 316.6L601.0 320.5L602.0 324.1L603.0 326.7L601.4 327.0L598.3 324.7L596.4 322.6L594.7 319.4L593.9 316.3L593.3 313.7L591.3 311.1L589.9 309.5L588.7 309.8L588.6 306.9L589.1 304.3L588.5 298.0L587.0 293.9L586.0 290.7L585.1 287.3L583.2 285.3L582.1 287.3L580.3 289.2L577.7 288.7L577.7 284.7L576.8 281.3L573.2 278.0L571.6 276.4L570.6 274.6L569.8 272.2L567.5 271.7L565.9 273.3L564.0 273.8L561.5 273.8L559.3 274.6L559.1 277.4L557.2 278.7L555.5 280.0L552.2 284.2L550.1 286.3L547.8 288.1L545.8 290.5L545.8 292.8L546.5 296.2L545.8 299.4L546.2 303.5L544.6 303.8L544.2 306.1L542.4 307.4L540.9 309.3L539.5 308.2L537.7 304.6L536.6 300.9L534.0 296.7L531.2 290.2L529.6 286.0L528.0 280.8L527.6 277.2L527.1 275.1L526.4 272.5L525.8 273.5L523.4 276.4L522.0 275.9L520.0 274.0L518.5 272.5L521.2 270.6L519.0 270.9L516.2 268.6L514.6 268.0L513.2 265.7L511.9 264.1L507.7 264.6L505.2 264.4L502.6 264.9L501.2 264.9L498.7 264.4L492.3 263.6L490.2 261.3L488.5 259.7L485.3 261.3L481.1 260.0L479.8 258.4L475.6 255.0L474.0 252.1L471.2 251.1L470.5 252.4L469.3 253.7L470.7 256.3L473.8 260.0L475.1 261.5L475.3 263.3L476.9 266.0L476.7 263.9L477.4 262.3L478.6 264.6L478.8 267.0L480.8 267.3L485.0 266.7L486.8 264.4L488.2 263.1L488.9 261.8L489.3 264.9L490.2 266.7L494.7 268.8L497.6 271.7L495.7 276.9L493.6 279.3L494.0 281.1L490.8 283.7L486.0 286.0L483.8 287.1L481.8 288.1L479.2 290.7L475.0 292.6L471.5 294.9L465.8 297.0L462.4 297.3L461.7 295.7L460.8 291.8L460.3 287.6L459.6 286.3L456.1 280.6L451.4 274.3L448.3 267.5L446.3 265.2L444.3 262.0L442.5 259.2L441.2 257.3L439.9 257.3L440.4 253.4L440.2 253.4L438.2 248.7L439.3 246.6L439.6 244.8L440.3 241.9L440.9 240.6L440.5 237.8L441.0 234.9L439.5 234.9L437.5 234.4L433.8 236.5L429.0 234.1L426.7 236.0L423.9 234.7L421.9 233.9L419.4 230.5L419.6 227.9L418.6 226.1L417.9 224.5L417.7 224.0L414.5 223.8L413.9 225.8L411.4 224.5L410.9 226.3L411.9 227.9L411.8 229.5L414.4 232.1L412.2 231.5L412.8 233.1L413.0 235.4L411.5 235.4L409.7 234.4L408.6 232.1L409.4 230.8L408.0 230.2L407.1 228.7L405.9 227.4L405.4 226.3L404.0 224.8L403.8 222.7L403.7 221.2L401.7 219.9L400.8 219.4L397.1 217.0L394.5 215.5L392.6 212.4L391.6 213.7L391.3 211.6L388.2 212.2L388.7 213.4L389.1 215.5L391.0 216.8L392.6 219.6L397.0 221.2L398.6 223.2L401.0 224.5L402.2 225.8L402.0 226.6L401.1 226.1L399.3 224.8L398.0 226.9L399.6 228.7L398.4 230.2L397.4 231.5L396.3 231.0L397.5 228.9L396.2 226.1L394.2 224.5L392.9 224.0L391.6 223.0L388.6 221.4L387.7 220.7L384.8 218.6L384.4 217.0L383.2 215.5L381.3 214.7L380.5 215.0L378.1 216.5L375.2 218.1L374.2 217.6L372.5 217.3L370.6 217.3L369.2 219.4L369.8 220.1L367.5 222.5L365.6 223.2L364.8 224.3L362.3 227.4L363.3 229.5L361.8 230.5L360.8 232.3L358.2 234.7L353.4 234.7L351.3 236.2L350.8 236.5L349.3 235.2L348.1 233.4L345.9 233.9L343.5 233.9L343.8 231.3L342.8 229.5L342.9 227.6L344.5 223.2L344.4 220.4L343.5 218.6L345.4 217.3L346.5 216.3L351.0 216.8L355.0 217.0L356.6 217.3L359.1 217.3L359.6 217.0L360.4 214.0L360.6 211.6L360.4 210.1L358.4 207.3L356.6 206.8L354.0 206.0L353.2 204.5L354.8 203.8L358.9 204.0L359.9 204.0L359.7 201.2L360.3 201.2L362.3 202.2L363.1 201.7L365.1 200.7L366.1 198.7L366.7 198.0L367.7 197.8L368.6 197.5L369.2 197.1L370.0 197.0L371.0 195.5L372.1 193.1L373.4 192.2L376.3 192.0L376.9 192.0L378.7 191.5L379.8 190.7L380.1 190.2L379.5 188.2L379.0 186.8L378.4 185.5L378.4 183.8L379.1 182.9L382.8 181.4L382.7 182.1L382.4 183.1L382.3 185.1L383.6 184.6L381.7 186.5L381.4 188.0L381.0 188.5L382.6 189.5L384.4 189.5L384.0 190.5L386.3 190.0L389.2 189.2L390.5 190.7L393.1 190.0L395.7 188.7L399.2 189.0L399.1 189.5L400.8 189.5L401.3 188.8L403.2 187.2L403.3 186.3L402.8 184.3L403.4 182.1L405.4 181.3L407.9 183.1L408.5 183.1L408.6 180.9L408.7 179.7L406.7 179.2L406.5 178.3L406.3 177.8L408.6 177.2L410.9 176.8L414.7 177.0L416.3 176.1L418.5 176.1L416.2 175.4L415.4 174.2L413.8 174.7L412.2 174.7L408.8 175.4L405.3 176.3L403.6 174.9L401.9 173.2L401.9 172.1L401.2 170.0L401.3 168.6L403.7 166.9L405.9 164.8L407.4 164.1L405.5 162.5L404.7 162.3L401.5 162.8L400.1 164.8L399.1 167.2L396.4 168.3L394.2 170.2L394.3 174.2L397.4 175.4L397.4 177.5L394.9 179.0L394.3 181.2L394.0 183.8L392.6 185.2L390.3 186.3L389.4 187.0L388.2 187.0L387.6 186.5L387.1 185.4L387.2 184.0L385.3 181.4L383.7 178.5L383.1 177.8L382.6 176.1L382.2 177.5L381.5 178.3L377.9 180.4L376.1 180.7L373.3 178.4L372.5 177.3L372.4 174.9L372.0 173.2L372.1 170.7L374.0 170.0L376.6 168.6L378.5 167.2L381.4 165.3L382.5 164.3L384.1 163.0L384.7 161.9L387.5 159.0L389.2 157.4L390.6 155.6L394.5 153.6L397.6 152.5L401.8 151.4Z" fill="#a8ddb5" stroke="none"/>
<g clip-path="url(#cp_eurasia)">
<path d="M383.7 178.5L384.7 176.3L385.9 175.6L385.7 173.5L385.0 171.8L384.7 168.8L387.7 165.3L388.2 163.4L388.0 161.6L389.7 161.2L390.8 158.5L393.4 156.3L396.6 156.5L397.2 155.0L398.5 154.5L400.6 155.8L402.7 155.8L405.0 156.0L406.1 155.2L406.1 153.6L409.1 152.7L411.3 155.0L412.9 154.3L414.3 153.9L414.0 153.4L414.2 147.6L378.9 147.6L366.5 171.1L370.5 183.1L382.5 180.2Z" fill="#f7fcf0"/>
<path d="M383.7 178.5L384.7 176.3L385.9 175.6L385.7 173.5L385.0 171.8L384.7 168.8L387.7 165.3L388.2 163.4L388.0 161.6L389.7 161.2L390.8 158.5L393.4 156.3L396.6 156.5L397.2 155.0L400.0 156.3L402.9 157.6L403.3 158.7L403.6 161.0L404.7 162.3L402.7 166.5L398.4 173.5L400.0 178.3L397.2 185.5L390.8 188.0L387.7 187.5L387.0 185.8L384.5 181.9L383.2 179.2Z" fill="#f7fcf0"/>
<path d="M397.2 155.0L398.5 154.5L400.6 155.8L402.7 155.8L405.0 156.0L406.1 155.2L406.1 153.6L409.1 152.7L411.3 155.0L411.1 156.9L413.9 158.1L412.8 159.9L415.2 162.5L415.0 164.3L416.7 166.0L419.4 169.0L417.2 171.6L416.5 172.8L413.8 174.7L410.8 175.8L405.2 176.8L400.6 175.4L400.1 172.3L399.1 168.3L402.6 165.7L404.9 163.0L404.7 162.3L403.6 161.0L403.3 158.7L402.9 157.6L400.0 156.3Z" fill="#f7fcf0"/>
<path d="M379.5 188.2L381.0 188.5L383.2 189.0L384.7 184.3L383.5 180.7L377.0 181.9L377.3 188.0Z" fill="#e0f3db"/>
<path d="M379.5 188.2L381.0 188.5L383.2 189.0L386.1 189.0L390.4 189.7L390.5 190.7L390.5 193.5L391.8 195.2L392.7 198.0L392.3 198.2L391.3 198.0L388.8 199.4L387.2 199.7L387.9 200.7L390.7 203.5L388.8 205.3L389.3 206.8L387.7 206.3L384.2 206.8L382.4 206.8L380.4 206.0L378.3 206.6L378.3 204.8L379.4 203.0L375.7 201.7L375.1 200.2L374.8 198.6L374.6 196.0L376.3 195.7L376.7 194.7L376.9 192.2L376.5 190.0L378.3 188.0Z" fill="#f7fcf0"/>
<path d="M376.9 192.2L376.7 194.7L376.3 195.7L374.6 196.0L374.8 198.6L374.2 198.4L374.4 197.7L372.8 196.8L371.4 197.1L369.6 197.1L368.8 196.5L370.7 192.5L375.5 190.5Z" fill="#e0f3db"/>
<path d="M368.0 197.7L369.6 197.1L371.4 197.1L372.8 196.8L374.4 197.7L374.2 198.4L374.8 198.6L375.1 200.2L374.5 201.6L372.6 201.0L371.3 200.6L369.3 199.2L368.5 198.7L367.6 196.7L369.2 196.2Z" fill="#e0f3db"/>
<path d="M374.5 201.6L375.1 200.2L375.7 201.7L374.7 201.8Z" fill="#e0f3db"/>
<path d="M368.0 197.7L368.5 198.7L369.3 199.2L371.3 200.6L372.6 201.0L374.5 201.6L374.7 201.8L375.7 201.7L379.4 203.0L378.3 204.8L378.3 206.6L377.1 207.1L375.4 209.4L375.2 210.1L376.8 209.6L377.3 210.9L376.9 212.9L377.4 214.0L377.2 214.7L378.5 216.3L377.6 219.6L370.3 220.9L369.6 219.8L366.5 219.6L364.4 218.9L361.4 218.6L359.1 217.4L356.7 214.5L350.7 205.5L356.9 199.9L364.9 198.9L366.9 196.7Z" fill="#e0f3db"/>
<path d="M378.3 206.6L380.4 206.0L382.4 206.8L382.3 207.8L384.3 208.3L384.2 209.1L381.9 209.6L381.4 210.9L380.1 209.9L379.1 210.8L377.3 210.9L376.8 209.6L375.2 210.1L375.4 209.4L377.1 207.1Z" fill="#f7fcf0"/>
<path d="M382.4 206.8L384.2 206.8L387.7 206.3L389.3 206.8L388.8 205.3L390.7 203.5L393.1 203.0L397.1 204.0L397.6 205.5L396.4 206.8L395.8 208.5L392.8 209.6L390.9 209.4L388.2 208.8L387.6 208.1L385.4 208.6L384.2 209.1L384.3 208.3L382.3 207.8Z" fill="#f7fcf0"/>
<path d="M378.5 216.3L377.2 214.7L377.4 214.0L376.9 212.9L377.3 210.9L379.1 210.8L380.1 209.9L381.4 210.9L381.9 209.6L384.2 209.1L385.4 208.6L387.6 208.1L388.2 208.8L390.9 209.4L390.8 210.9L391.3 211.6L390.1 212.7L393.1 217.0L398.6 220.9L403.2 225.3L403.4 228.7L399.5 233.9L395.7 232.1L388.5 228.7L383.4 219.6L379.6 218.3Z" fill="#e0f3db"/>
<path d="M369.6 219.8L366.5 219.6L364.4 218.9L361.4 218.6L359.1 217.4L354.6 214.5L342.2 214.5L341.9 220.9L344.3 221.2L345.7 220.7L345.9 221.4L349.0 221.0L349.8 221.9L348.3 223.5L348.5 225.3L348.0 226.9L346.9 227.1L348.0 228.7L347.3 230.0L347.9 230.8L346.8 232.6L347.0 233.4L346.8 239.1L371.6 239.1L373.4 220.9Z" fill="#e0f3db"/>
<path d="M344.3 221.2L345.7 220.7L345.9 221.4L349.0 221.0L349.8 221.9L348.3 223.5L348.5 225.3L348.0 226.9L346.9 227.1L348.0 228.7L347.3 230.0L347.9 230.8L346.8 232.6L347.0 233.4L346.9 236.5L339.1 236.5L339.8 221.2Z" fill="#e0f3db"/>
<path d="M390.5 190.7L390.5 193.5L391.8 195.2L392.7 198.0L392.3 198.2L395.3 198.8L395.2 199.4L396.6 199.4L398.1 199.9L400.1 200.7L400.7 201.7L402.7 202.5L403.7 202.0L406.3 202.0L408.3 202.7L408.4 201.5L410.8 198.4L409.5 196.5L409.6 195.2L408.5 194.7L409.7 193.7L408.5 190.6L407.0 189.6L400.8 189.3L399.4 187.5L390.3 188.5Z" fill="#ccebc5"/>
<path d="M392.3 198.2L391.3 198.0L388.8 199.4L387.2 199.7L387.9 200.7L390.7 203.5L393.1 203.0L397.1 204.0L399.0 203.2L399.1 203.0L400.7 201.7L400.1 200.7L398.1 199.9L396.6 199.4L395.2 199.4L395.3 198.8Z" fill="#ccebc5"/>
<path d="M397.1 204.0L397.6 205.5L399.0 206.2L401.2 206.0L403.4 205.0L404.9 204.1L407.7 204.5L408.3 202.7L406.3 202.0L403.7 202.0L402.7 202.5L400.7 201.7L399.1 203.0L399.0 203.2Z" fill="#a8ddb5"/>
<path d="M397.6 205.5L399.0 206.2L401.2 206.0L403.4 205.0L404.9 204.1L407.7 204.5L409.3 205.5L407.6 206.8L407.0 208.1L406.3 209.6L404.5 210.2L401.7 210.9L398.4 210.6L396.9 209.4L395.8 208.5L396.4 206.8Z" fill="#ccebc5"/>
<path d="M390.9 209.4L392.8 209.6L395.8 208.5L396.9 209.4L395.1 210.1L395.0 211.1L394.4 211.9L392.9 211.6L390.9 212.0L391.3 211.6L390.8 210.9Z" fill="#e0f3db"/>
<path d="M390.9 212.0L392.9 211.6L394.4 211.9L395.0 211.1L395.1 210.1L396.9 209.4L398.4 210.6L401.7 210.9L402.3 212.4L402.9 212.7L402.2 213.4L400.1 212.9L397.8 212.7L395.5 212.7L395.6 213.7L396.5 215.2L398.3 217.0L399.7 218.3L401.4 219.4L401.7 219.8L398.6 220.1L393.1 216.3L390.6 213.7Z" fill="#ccebc5"/>
<path d="M402.2 213.4L400.1 212.9L397.8 212.7L395.5 212.7L395.6 213.7L396.5 215.2L398.3 217.0L399.7 218.3L401.4 219.4L401.6 219.4L401.9 217.8L402.9 217.0L403.4 215.8L402.5 215.0L403.0 213.4Z" fill="#ccebc5"/>
<path d="M401.7 219.8L401.6 219.4L401.9 217.8L402.9 217.0L405.4 218.7L405.0 219.5L403.9 219.4L403.7 221.3L402.5 221.9Z" fill="#ccebc5"/>
<path d="M401.7 210.9L404.5 210.2L405.7 211.3L407.3 212.7L407.2 213.7L408.7 214.5L409.9 214.3L409.9 215.2L409.5 216.3L410.9 217.8L409.9 220.1L408.2 220.3L408.5 219.1L407.6 218.3L406.9 217.8L405.9 217.8L405.4 218.7L402.9 217.0L403.4 215.8L402.5 215.0L403.0 213.4L402.2 213.4L402.9 212.7L402.3 212.4Z" fill="#ccebc5"/>
<path d="M405.4 218.7L405.9 217.8L406.9 217.8L407.6 218.3L408.5 219.1L408.2 220.3L407.2 220.4L406.5 220.8L406.2 221.2L405.0 219.5Z" fill="url(#hatchm)"/>
<path d="M403.7 221.3L403.9 219.4L405.0 219.5L406.2 221.2L406.1 222.7L406.9 223.8L407.3 223.9L406.8 225.3L406.1 226.6L405.4 226.9L403.3 226.1L402.9 221.4Z" fill="#a8ddb5"/>
<path d="M406.2 221.2L406.5 220.8L407.2 220.4L408.2 220.3L409.9 220.1L411.3 221.7L411.3 222.6L409.3 223.2L407.3 223.9L406.9 223.8L406.1 222.7Z" fill="#ccebc5"/>
<path d="M405.4 226.9L406.1 226.6L406.8 225.3L407.3 223.9L409.3 223.2L411.3 222.6L414.5 222.2L416.3 222.9L417.9 222.6L418.3 221.7L419.0 222.6L418.5 223.6L417.9 224.1L417.9 224.5L416.1 227.4L417.1 237.8L405.2 237.8L404.4 226.9Z" fill="#e0f3db"/>
<path d="M409.9 215.2L410.5 216.1L412.8 216.5L416.0 216.7L419.6 215.5L422.4 216.4L424.5 218.3L423.0 220.9L421.7 220.9L419.6 220.7L418.3 221.7L417.9 222.6L416.3 222.9L414.5 222.2L411.3 222.6L411.3 221.7L409.9 220.1L410.9 217.8L409.5 216.3Z" fill="#a8ddb5"/>
<path d="M404.5 210.2L406.3 209.6L407.0 208.1L407.6 206.8L409.3 205.5L412.8 205.7L416.7 204.9L418.8 206.8L420.2 208.3L420.6 209.4L421.0 212.0L424.2 212.7L425.0 214.5L422.4 216.4L419.6 215.5L416.0 216.7L412.8 216.5L410.5 216.1L409.9 215.2L409.9 214.3L408.7 214.5L407.2 213.7L407.3 212.7L405.7 211.3Z" fill="#a8ddb5"/>
<path d="M407.7 204.5L408.3 202.7L408.4 201.5L410.8 198.4L409.5 196.5L412.2 195.7L416.8 196.5L420.7 197.0L423.5 197.2L423.8 195.3L425.5 195.2L429.3 194.6L431.0 197.2L433.0 198.0L433.9 199.4L437.7 199.7L439.0 200.7L443.3 201.5L443.6 205.8L440.7 206.6L440.8 207.8L439.3 213.2L439.0 215.0L431.5 215.8L426.6 211.1L424.2 212.7L421.0 212.0L422.2 210.8L424.2 209.6L422.3 206.8L421.9 205.7L419.5 204.8L418.5 204.4L416.7 204.9L412.8 205.7L409.3 205.5Z" fill="#a8ddb5"/>
<path d="M416.7 204.9L418.5 204.4L419.5 204.8L421.9 205.7L422.3 206.8L424.2 209.6L422.2 210.8L421.0 212.0L420.6 209.4L420.2 208.3L418.8 206.8Z" fill="#7bccc4"/>
<path d="M408.5 190.6L409.7 193.7L408.5 194.7L409.6 195.2L409.5 196.5L412.2 195.7L416.8 196.5L420.7 197.0L423.5 197.2L423.8 195.3L425.5 195.2L424.0 192.7L426.6 192.0L422.7 188.7L422.1 186.5L416.6 185.2L413.8 186.3L414.0 187.2L412.6 188.2L412.3 190.0Z" fill="#ccebc5"/>
<path d="M403.4 187.2L403.0 185.3L404.7 184.6L410.5 185.1L413.8 186.3L414.0 187.2L412.6 188.2L412.3 190.0L408.5 190.6L407.0 189.6L406.8 188.2L406.4 187.8L403.8 187.4L402.2 187.2L402.0 185.3Z" fill="#ccebc5"/>
<path d="M403.0 185.3L404.7 184.6L410.5 185.1L413.8 186.3L416.6 185.2L415.1 182.1L414.5 181.8L411.7 181.2L410.3 180.6L409.8 180.7L408.6 180.9L405.0 180.2L401.5 181.9L402.0 185.3Z" fill="#ccebc5"/>
<path d="M408.6 180.9L409.8 180.7L410.3 180.6L411.7 181.2L414.5 181.8L414.3 180.0L414.0 178.3L415.1 177.3L414.4 175.8L403.4 175.8L404.1 180.2Z" fill="#ccebc5"/>
<path d="M417.9 224.1L418.5 223.6L419.0 222.6L418.3 221.7L419.6 220.7L421.7 220.9L425.6 218.3L442.3 218.3L450.4 222.2L452.5 222.3L454.7 223.2L455.7 225.8L458.2 226.9L456.6 227.6L457.7 230.2L458.4 231.8L459.3 233.4L455.4 233.1L454.2 233.6L449.1 234.4L444.8 234.4L442.7 234.7L442.0 236.0L440.6 236.6L439.9 237.8L427.9 237.8L420.2 236.5L418.0 231.3L417.5 226.1L417.9 224.5Z" fill="#a8ddb5"/>
<path d="M446.3 217.3L450.5 217.8L454.6 219.4L456.0 219.1L458.4 219.6L460.4 221.2L460.2 221.9L461.3 223.2L457.8 222.9L454.7 223.2L452.5 222.3L450.4 222.2L447.7 219.6Z" fill="#7bccc4"/>
<path d="M454.7 223.2L457.8 222.9L459.3 224.0L460.2 225.3L461.9 227.4L462.2 228.9L461.3 228.7L460.4 227.4L458.6 226.7L458.2 226.9L455.7 225.8Z" fill="#7bccc4"/>
<path d="M465.1 221.3L463.8 223.0L462.7 222.7L460.4 221.2L460.2 221.9L461.3 223.2L457.8 222.9L459.3 224.0L460.2 225.3L461.9 227.4L462.2 228.9L465.0 226.9L465.8 227.6L465.4 229.2L467.5 230.1L470.9 230.0L470.9 224.8L466.9 221.2Z" fill="#4eb3d3"/>
<path d="M458.2 226.9L458.6 226.7L460.4 227.4L461.3 228.7L461.1 229.1L459.8 228.7L458.5 227.6Z" fill="#4eb3d3"/>
<path d="M440.6 236.6L442.0 236.0L442.7 234.7L444.8 234.4L449.1 234.4L454.2 233.6L452.1 235.4L452.2 240.6L447.7 243.3L443.7 246.1L441.3 245.1L441.2 243.5L442.7 241.2L442.1 240.1L441.1 240.0L440.0 239.1Z" fill="#a8ddb5"/>
<path d="M439.7 244.0L441.2 243.5L442.7 241.2L442.1 240.1L441.1 240.0L439.7 240.4Z" fill="#7bccc4"/>
<path d="M438.2 248.7L440.2 253.4L440.9 249.0L441.0 248.2L440.9 245.9L441.3 245.1L441.2 243.5L439.7 244.0L438.5 245.6Z" fill="#e0f3db"/>
<path d="M440.3 253.4L442.7 254.2L444.1 252.5L445.9 252.1L446.8 250.8L444.3 248.2L448.6 246.9L449.0 246.5L447.7 243.3L443.7 246.1L441.3 245.1L440.9 245.9L441.0 248.2L440.9 249.0Z" fill="#a8ddb5"/>
<path d="M454.2 233.6L455.4 233.1L459.3 233.4L461.1 236.5L463.0 237.3L462.1 240.1L461.9 241.7L463.8 244.0L467.1 246.1L468.0 247.4L468.1 249.5L468.9 250.8L470.5 252.4L470.0 252.1L469.0 252.1L468.4 251.9L466.1 254.5L462.0 254.2L455.7 249.3L451.7 247.0L449.0 246.5L447.7 243.3L452.2 240.6L452.1 235.4Z" fill="#a8ddb5"/>
<path d="M466.1 254.5L468.4 251.9L469.0 252.1L470.0 252.1L471.2 254.7L470.6 256.0L468.9 256.0L468.3 254.7Z" fill="#a8ddb5"/>
<path d="M460.3 287.6L461.5 284.7L463.4 285.0L465.6 285.0L469.1 285.3L470.9 285.8L472.3 282.9L474.3 281.9L480.8 280.8L483.7 287.0L484.9 290.0L465.9 299.6L462.0 298.6L458.9 296.5L458.5 287.6Z" fill="#7bccc4"/>
<path d="M483.7 287.0L480.8 280.8L487.4 278.2L488.5 273.0L487.2 271.2L488.3 267.8L488.5 265.4L489.4 265.3L490.8 265.4L499.1 270.4L496.7 280.8L488.2 288.7Z" fill="#a8ddb5"/>
<path d="M478.8 267.1L478.8 267.5L481.3 270.5L487.2 271.2L488.3 267.8L488.5 265.4L489.4 265.3L489.8 261.3L483.8 263.6L479.5 265.2Z" fill="#a8ddb5"/>
<path d="M477.0 266.0L478.1 266.5L478.7 266.2L479.4 263.9L477.5 261.3L475.9 263.1Z" fill="#a8ddb5"/>
<path d="M458.2 226.9L456.6 227.6L457.7 230.2L458.4 231.8L459.3 233.4L461.1 236.5L463.0 237.3L462.1 240.1L461.9 241.7L463.8 244.0L467.1 246.1L468.0 247.4L468.1 249.5L468.9 250.8L470.5 252.4L472.6 254.0L476.5 258.6L481.3 261.8L485.9 262.6L489.1 261.0L490.6 264.4L494.1 265.4L501.1 265.7L501.2 264.9L501.3 262.0L504.0 261.0L504.0 259.4L502.9 259.2L502.5 256.6L500.2 255.8L497.7 252.5L499.2 250.0L499.0 248.5L496.7 248.2L495.5 244.3L495.0 242.5L495.6 240.9L495.5 238.3L495.5 237.4L494.7 234.8L493.0 234.8L490.3 232.6L485.3 230.5L483.7 231.0L481.6 231.0L480.4 232.7L478.8 233.0L474.4 231.3L468.8 230.0L467.5 230.1L465.4 229.2L465.8 227.6L465.0 226.9L462.2 228.9L461.1 229.1L459.8 228.7L458.5 227.6Z" fill="#ccebc5"/>
<path d="M463.2 209.6L462.1 209.1L458.3 206.0L457.3 204.5L457.4 202.5L456.8 200.7L459.8 200.8L460.4 200.2L461.3 198.4L463.2 196.2L466.9 196.7L468.8 197.0L471.3 198.0L473.8 198.9L477.0 197.7L479.2 197.8L481.4 199.1L485.0 198.4L484.9 197.2L481.2 195.7L482.7 194.5L482.0 193.7L482.3 193.0L484.2 192.7L482.1 191.7L482.2 190.5L489.0 189.6L494.2 188.0L495.2 187.0L498.8 187.2L500.9 190.2L504.5 190.5L506.0 191.7L507.7 191.6L511.1 190.0L511.7 189.7L515.0 192.2L522.0 198.4L524.9 198.4L528.5 198.0L533.3 199.9L536.8 201.0L538.6 202.7L537.8 202.5L536.2 204.8L537.2 207.8L532.0 207.6L533.0 212.4L528.1 213.2L529.7 215.2L531.5 217.8L530.5 218.6L531.3 220.4L528.5 218.9L521.3 218.6L516.7 218.3L516.9 219.6L511.8 218.9L511.7 220.3L510.4 220.9L508.3 222.5L506.9 224.0L506.5 223.2L502.7 221.2L501.2 219.9L501.0 218.3L497.9 216.5L492.1 217.0L489.4 215.0L483.5 211.6L478.6 213.2L481.0 222.7L479.7 222.7L478.2 220.9L476.4 220.1L474.2 220.7L473.2 221.6L469.1 217.0L466.2 213.2L466.9 211.9L464.5 210.6Z" fill="#7bccc4"/>
<path d="M478.8 233.0L480.4 232.7L481.6 231.0L483.7 231.0L485.3 230.5L490.3 232.6L493.0 234.8L494.7 234.8L495.5 237.4L498.1 238.3L499.5 236.9L502.2 235.7L502.4 233.6L504.0 233.1L505.9 233.0L505.7 231.3L503.3 230.5L499.9 228.7L495.4 226.1L493.6 223.2L489.6 222.5L489.3 221.4L485.5 218.9L483.3 220.4L483.1 222.7L481.0 222.7L479.7 222.7L478.2 220.9L476.4 220.1L474.2 220.7L473.2 221.6L473.4 226.1L475.8 230.0Z" fill="#4eb3d3"/>
<path d="M481.0 222.7L478.6 213.2L483.5 211.6L489.4 215.0L492.1 217.0L497.9 216.5L501.0 218.3L501.2 219.9L502.7 221.2L506.5 223.2L506.9 224.0L508.3 222.5L510.4 220.9L511.7 220.3L511.6 222.2L513.9 222.2L517.4 223.9L515.4 224.8L513.3 225.6L512.4 225.2L512.0 223.5L509.5 224.0L508.5 225.6L509.5 226.3L506.4 227.4L509.4 230.8L508.8 233.4L505.9 233.0L505.7 231.3L503.3 230.5L499.9 228.7L495.4 226.1L493.6 223.2L489.6 222.5L489.3 221.4L485.5 218.9L483.3 220.4L483.1 222.7Z" fill="#4eb3d3"/>
<path d="M511.7 220.3L511.8 218.9L516.9 219.6L516.7 218.3L521.3 218.6L528.5 218.9L531.3 220.4L528.3 222.2L525.3 223.5L521.8 224.8L520.0 225.8L519.8 226.6L519.7 227.5L515.8 227.4L512.9 227.1L510.8 227.1L512.4 225.2L513.3 225.6L515.4 224.8L517.4 223.9L513.9 222.2L511.6 222.2Z" fill="#7bccc4"/>
<path d="M512.4 225.2L512.0 223.5L509.5 224.0L508.5 225.6L509.5 226.3L506.4 227.4L509.4 230.8L508.8 233.4L512.1 233.6L513.7 232.3L513.4 230.5L515.5 230.5L517.1 233.9L517.1 234.7L519.4 233.9L524.0 233.2L523.9 231.3L523.1 230.0L520.7 229.7L519.7 227.5L515.8 227.4L512.9 227.1L510.8 227.1Z" fill="#4eb3d3"/>
<path d="M497.7 252.5L499.2 250.0L499.0 248.5L496.7 248.2L495.5 244.3L495.0 242.5L495.6 240.9L495.5 238.3L495.5 237.4L498.1 238.3L499.5 236.9L502.2 235.7L502.4 233.6L504.0 233.1L505.9 233.0L508.8 233.4L512.1 233.6L513.7 232.3L513.4 230.5L515.5 230.5L517.1 233.9L517.1 234.7L519.4 233.9L524.0 233.2L522.4 234.4L519.2 234.4L516.9 236.5L518.3 238.6L517.5 240.4L517.9 241.4L515.6 241.9L515.8 244.0L514.9 245.6L515.2 247.2L512.8 247.4L509.8 249.0L509.3 249.8L509.6 252.4L504.7 253.7L501.4 253.7Z" fill="#4eb3d3"/>
<path d="M501.2 264.9L501.3 262.0L504.0 261.0L504.0 259.4L502.9 259.2L502.5 256.6L500.2 255.8L497.7 252.5L501.4 253.7L504.7 253.7L509.6 252.4L509.3 249.8L509.8 249.0L512.8 247.4L515.2 247.2L514.9 245.6L515.8 244.0L515.6 241.9L517.9 241.4L517.5 240.4L518.3 238.6L516.9 236.5L519.2 234.4L522.4 234.4L524.0 233.2L526.3 234.7L527.4 236.7L531.6 237.8L530.2 240.0L527.9 240.4L523.9 239.9L524.1 241.7L525.5 244.3L528.4 246.1L526.9 247.4L527.4 249.5L526.2 251.1L524.6 254.7L522.9 257.6L519.6 257.6L518.1 259.4L519.7 261.3L519.7 262.8L522.2 266.2L522.1 267.0L517.4 267.0L516.2 268.6L511.3 269.1L501.2 266.5Z" fill="#4eb3d3"/>
<path d="M516.2 268.6L517.4 267.0L522.1 267.0L522.2 266.2L519.7 262.8L519.7 261.3L518.1 259.4L519.6 257.6L522.9 257.6L524.6 254.7L526.2 251.1L527.4 249.5L526.9 247.4L528.4 246.1L525.5 244.3L524.1 241.7L523.9 239.9L527.9 240.4L530.2 240.0L531.6 237.8L534.8 240.9L535.7 243.8L534.7 245.3L536.1 248.2L537.7 249.3L540.0 250.6L542.1 251.6L540.7 255.3L544.1 256.8L548.5 259.0L551.7 259.4L554.7 261.0L557.5 261.5L559.7 261.5L559.0 257.7L560.4 257.2L561.0 259.2L561.5 260.5L563.4 260.7L566.0 260.5L568.4 260.3L568.0 258.8L566.9 258.0L568.7 257.6L570.5 255.5L573.6 254.2L576.1 253.8L579.3 256.7L578.9 258.1L579.4 259.7L576.9 259.2L575.5 261.0L574.9 264.6L575.4 266.0L574.4 268.0L572.8 267.8L572.9 270.4L572.8 272.5L571.8 273.1L570.7 270.4L569.1 270.4L567.9 268.6L568.2 267.5L569.7 265.4L570.1 265.2L565.6 264.8L564.1 264.4L563.7 262.6L561.1 261.5L560.4 261.3L560.1 263.1L562.2 264.6L560.4 266.0L562.1 267.3L562.5 269.9L563.7 272.7L564.0 273.8L564.4 278.2L549.3 317.4L537.7 314.7L511.8 273.0Z" fill="#4eb3d3"/>
<path d="M542.1 251.6L540.7 255.3L544.1 256.8L548.5 259.0L551.7 259.4L554.7 261.0L557.5 261.5L559.7 261.5L559.0 257.7L555.3 257.3L553.4 256.6L549.8 255.0L546.9 254.0L544.5 251.9Z" fill="#7bccc4"/>
<path d="M561.0 259.2L561.5 260.5L563.4 260.7L566.0 260.5L568.4 260.3L568.0 258.8L566.9 258.0L564.2 257.1L562.1 256.8Z" fill="#7bccc4"/>
<path d="M571.8 273.1L570.7 270.4L569.1 270.4L567.9 268.6L568.2 267.5L569.7 265.4L570.1 265.2L565.6 264.8L564.1 264.4L563.7 262.6L561.1 261.5L560.4 261.3L560.1 263.1L562.2 264.6L560.4 266.0L562.1 267.3L562.5 269.9L563.7 272.7L564.0 273.8L565.3 276.9L571.1 277.4L571.6 276.4L572.0 274.8Z" fill="#7bccc4"/>
<path d="M571.6 276.4L572.0 274.8L571.8 273.1L572.8 272.5L572.9 270.4L572.8 267.8L574.4 268.0L575.4 266.0L574.9 264.6L575.5 261.0L576.9 259.2L579.4 259.7L578.9 258.1L579.3 256.7L581.4 258.4L582.8 258.6L583.7 262.8L582.0 265.2L582.2 268.0L584.6 267.5L585.4 269.9L586.9 270.6L586.6 272.7L588.9 274.3L591.2 274.2L590.3 276.1L589.4 277.3L587.1 278.7L584.9 279.0L584.6 282.1L587.4 287.3L586.9 290.7L589.7 296.5L589.8 299.9L589.1 304.3L585.5 305.6L582.2 293.9L574.9 290.0L571.3 279.5Z" fill="#4eb3d3"/>
<path d="M589.4 277.3L587.1 278.7L584.9 279.0L584.6 282.1L587.4 287.3L586.9 290.7L589.7 296.5L589.8 299.9L589.1 304.3L586.7 305.6L588.1 310.8L591.7 314.0L593.1 313.4L594.9 314.1L595.5 315.5L597.1 315.3L597.7 314.2L598.1 312.7L595.8 305.6L595.4 300.4L598.5 299.9L597.4 297.3L596.8 295.0L598.1 293.2L602.2 292.8L603.1 293.1L603.6 291.3L603.6 289.4L601.4 287.3L600.9 284.7L598.7 282.7L597.2 282.7L594.7 282.9L592.7 284.7L592.2 279.5L590.6 279.5L590.1 277.7Z" fill="#a8ddb5"/>
<path d="M591.2 274.2L590.3 276.1L589.4 277.3L590.1 277.7L590.6 279.5L592.2 279.5L592.7 284.7L594.7 282.9L597.2 282.7L598.7 282.7L600.9 284.7L601.4 287.3L603.6 289.4L603.6 291.3L603.1 293.1L605.1 294.1L608.4 292.0L608.1 290.5L607.1 288.4L605.5 287.1L603.3 284.5L601.4 282.4L598.6 280.0L600.4 278.7L598.2 277.2L599.4 276.4L596.4 276.1L595.1 273.8L593.1 272.0L592.6 275.1Z" fill="#4eb3d3"/>
<path d="M598.5 299.9L597.4 297.3L596.8 295.0L598.1 293.2L602.2 292.8L603.1 293.1L605.1 294.1L608.4 292.0L608.6 295.2L609.1 298.0L606.6 299.9L605.8 301.7L603.8 302.0L602.4 303.3L600.4 304.8L597.9 302.2Z" fill="#4eb3d3"/>
<path d="M593.1 272.0L597.0 271.4L599.8 269.6L603.1 270.6L603.5 273.0L606.7 274.2L608.5 278.2L608.4 284.7L615.0 291.3L616.4 304.3L606.5 310.8L601.7 308.2L601.5 304.3L602.4 303.3L603.8 302.0L605.8 301.7L606.6 299.9L609.1 298.0L608.6 295.2L608.4 292.0L608.1 290.5L607.1 288.4L605.5 287.1L603.3 284.5L601.4 282.4L598.6 280.0L600.4 278.7L598.2 277.2L599.4 276.4L596.4 276.1L595.1 273.8Z" fill="#a8ddb5"/>
<path d="M593.1 313.4L594.9 314.1L595.5 315.5L597.1 315.3L597.7 314.2L602.0 313.4L604.8 327.8L601.4 328.3L593.2 321.3L591.7 314.0Z" fill="#a8ddb5"/>
<path d="M606.7 274.2L603.5 273.0L603.1 270.6L599.8 269.6L597.0 271.4L593.1 272.0L592.6 275.1L591.2 274.2L588.9 274.3L586.6 272.7L586.9 270.6L585.4 269.9L584.6 267.5L582.2 268.0L582.0 265.2L583.7 262.8L582.8 258.6L581.4 258.4L579.3 256.7L576.1 253.8L573.6 254.2L570.5 255.5L568.7 257.6L566.9 258.0L564.2 257.1L562.1 256.8L561.0 259.2L560.4 257.2L559.0 257.7L555.3 257.3L553.4 256.6L549.8 255.0L546.9 254.0L544.5 251.9L542.1 251.6L540.0 250.6L537.7 249.3L536.1 248.2L534.7 245.3L535.7 243.8L534.8 240.9L531.6 237.8L527.4 236.7L526.3 234.7L524.0 233.2L523.9 231.3L523.1 230.0L520.7 229.7L519.7 227.5L519.8 226.6L520.0 225.8L521.8 224.8L525.3 223.5L528.3 222.2L531.3 220.4L530.5 218.6L531.5 217.8L529.7 215.2L528.1 213.2L533.0 212.4L532.0 207.6L537.2 207.8L536.2 204.8L537.8 202.5L538.6 202.7L539.5 202.6L542.9 205.3L548.4 208.3L550.3 211.9L556.0 213.2L560.7 215.0L564.5 218.9L572.2 219.2L576.2 219.6L583.6 221.7L586.8 220.4L591.9 219.8L595.5 216.5L594.0 212.9L597.8 213.7L601.2 211.4L601.8 209.9L603.0 209.1L607.7 208.8L603.2 205.8L601.6 205.5L597.3 205.8L596.6 200.8L599.3 201.7L601.2 200.2L600.2 196.7L599.6 194.0L598.0 193.5L599.3 192.2L603.5 191.6L609.6 193.5L618.3 201.0L624.8 203.2L628.9 206.3L631.9 206.3L635.2 204.6L635.7 207.3L637.7 212.9L634.8 212.4L633.8 213.7L636.6 217.3L636.6 219.8L634.3 218.5L634.8 219.9L631.8 220.9L633.1 222.5L629.8 221.4L629.2 223.8L627.3 226.3L626.9 227.4L628.8 233.9L634.3 244.3L635.8 254.7L633.9 263.9L631.0 271.7L620.5 275.6L613.9 276.7L612.5 277.8L610.6 277.2L608.1 275.6Z" fill="#ccebc5"/>
<path d="M539.5 202.6L542.9 205.3L548.4 208.3L550.3 211.9L556.0 213.2L560.7 215.0L564.5 218.9L572.2 219.2L576.2 219.6L583.6 221.7L586.8 220.4L591.9 219.8L595.5 216.5L594.0 212.9L597.8 213.7L601.2 211.4L601.8 209.9L603.0 209.1L607.7 208.8L603.2 205.8L601.6 205.5L597.3 205.8L596.6 200.8L591.5 199.8L589.5 201.5L585.1 202.5L580.9 202.1L576.6 199.9L570.6 199.9L566.6 198.9L565.2 197.1L560.3 196.1L557.6 195.2L557.3 198.0L558.6 199.2L557.9 201.1L552.9 200.4L550.7 199.1L546.8 198.4L545.0 199.2L542.5 200.7L539.9 201.7Z" fill="#7bccc4"/>
<path d="M627.3 226.3L629.2 223.8L629.8 221.4L633.1 222.5L631.8 220.9L634.8 219.9L634.3 218.5L636.6 219.8L637.0 220.1L639.6 223.5L638.7 229.7L637.4 229.7L634.8 230.5L634.6 231.4L633.5 231.9L630.4 232.6L626.9 227.4Z" fill="#7bccc4"/>
<path d="M637.4 229.7L634.8 230.5L634.6 231.4L633.5 231.9L633.1 233.9L636.6 241.7L642.2 242.2L645.4 239.1L642.2 232.6Z" fill="#e0f3db"/>
</g>
<path d="M405.0 150.6L409.6 151.0L414.0 152.1L414.0 153.4L418.8 154.5L423.1 154.7L427.0 156.5L430.3 157.2L433.5 159.6L433.6 161.0L429.5 161.6L423.1 160.5L418.5 159.4L420.8 161.4L424.1 165.3L427.5 166.5L429.5 164.3L434.1 165.0L432.3 162.3L436.1 160.7L438.9 161.4L435.8 156.0L441.7 157.4L442.6 159.6L445.3 158.1L452.0 155.8L454.1 156.7L459.8 156.3L463.4 153.6L471.5 154.7L475.8 156.3L474.7 152.9L472.1 150.8L472.8 147.6L474.4 146.6L478.7 147.0L482.0 150.8L486.0 155.2L487.3 158.5L488.4 156.3L486.3 151.9L482.4 148.7L483.2 147.6L487.5 148.1L491.3 150.8L492.9 148.7L490.3 145.5L497.9 142.4L503.4 140.4L511.4 139.5L518.0 137.2L523.8 138.5L535.5 140.4L537.7 141.4L540.6 144.5L535.6 144.9L533.0 146.2L542.6 145.5L554.1 146.6L558.4 145.5L563.9 145.5L571.2 148.1L577.1 150.8L579.0 149.7L583.9 149.7L587.2 148.1L587.4 146.8L592.3 147.6L606.6 149.7L612.6 151.0L628.8 153.6L631.9 154.0L647.7 155.2L645.1 152.7L655.4 153.6L663.9 155.4L664.8 155.4L678.1 164.1L676.7 165.0L674.7 164.8L683.3 168.8L685.5 170.4L679.4 171.6L676.7 173.7L676.6 176.1L667.6 175.1L664.4 176.3L667.5 180.7L673.9 185.1L674.3 188.0L675.6 188.7L675.2 192.5L673.1 193.0L674.2 198.2L669.0 194.2L662.4 188.0L657.9 183.1L658.5 180.2L659.6 179.5L660.2 175.8L658.9 171.8L657.7 170.2L656.8 171.6L653.1 171.6L650.1 171.4L647.1 171.8L647.6 173.0L648.6 177.0L641.7 177.0L637.1 177.5L628.2 177.5L626.7 181.2L625.4 184.3L627.0 188.5L625.7 189.2L631.5 190.5L636.9 192.2L638.7 192.5L641.3 195.5L641.3 196.7L645.4 203.0L645.7 208.6L644.6 214.5L641.1 218.9L638.3 218.1L637.0 220.1L635.9 221.4L637.0 223.8L635.4 226.1L634.2 226.6L634.5 228.2L637.4 229.7L641.3 233.9L642.8 236.5L643.3 238.8L641.2 239.6L638.4 240.6L636.9 237.8L635.6 234.1L634.9 232.6L633.6 232.1L631.5 231.8L630.1 231.0L630.6 229.5L628.9 227.1L627.3 226.3L624.6 227.1L622.5 228.9L621.6 227.4L621.5 224.3L618.8 224.0L617.1 226.3L614.3 228.7L615.6 230.8L618.3 232.1L619.5 233.6L622.1 231.8L626.4 232.8L625.7 234.1L623.2 236.2L622.1 239.1L622.4 239.9L625.4 242.2L627.9 245.3L631.1 247.9L631.5 249.8L629.9 251.3L633.0 252.6L632.1 257.3L630.6 262.6L628.2 266.5L625.7 269.6L620.3 272.2L618.8 272.7L615.2 274.0L612.5 275.3L612.5 277.4L610.8 275.9L610.8 274.3L609.2 274.3L606.7 274.3L604.3 276.1L602.7 280.0L602.9 281.6L605.2 284.7L608.1 287.3L609.6 288.4L612.6 294.4L613.1 299.4L610.7 302.0L608.5 303.3L607.8 305.4L603.6 308.0L603.4 304.8L604.0 304.3L602.5 303.3L600.2 302.7L598.8 300.7L598.5 299.9L597.5 298.6L594.7 297.5L593.7 296.7L592.8 295.2L591.5 295.7L591.6 297.5L591.4 299.6L590.6 303.0L591.1 306.4L592.8 308.5L594.1 311.6L596.0 312.4L597.7 314.2L600.2 316.6L601.0 320.5L602.0 324.1L603.0 326.7L601.4 327.0L598.3 324.7L596.4 322.6L594.7 319.4L593.9 316.3L593.3 313.7L591.3 311.1L589.9 309.5L588.7 309.8L588.6 306.9L589.1 304.3L588.5 298.0L587.0 293.9L586.0 290.7L585.1 287.3L583.2 285.3L582.1 287.3L580.3 289.2L577.7 288.7L577.7 284.7L576.8 281.3L573.2 278.0L571.6 276.4L570.6 274.6L569.8 272.2L567.5 271.7L565.9 273.3L564.0 273.8L561.5 273.8L559.3 274.6L559.1 277.4L557.2 278.7L555.5 280.0L552.2 284.2L550.1 286.3L547.8 288.1L545.8 290.5L545.8 292.8L546.5 296.2L545.8 299.4L546.2 303.5L544.6 303.8L544.2 306.1L542.4 307.4L540.9 309.3L539.5 308.2L537.7 304.6L536.6 300.9L534.0 296.7L531.2 290.2L529.6 286.0L528.0 280.8L527.6 277.2L527.1 275.1L526.4 272.5L525.8 273.5L523.4 276.4L522.0 275.9L520.0 274.0L518.5 272.5L521.2 270.6L519.0 270.9L516.2 268.6L514.6 268.0L513.2 265.7L511.9 264.1L507.7 264.6L505.2 264.4L502.6 264.9L501.2 264.9L498.7 264.4L492.3 263.6L490.2 261.3L488.5 259.7L485.3 261.3L481.1 260.0L479.8 258.4L475.6 255.0L474.0 252.1L471.2 251.1L470.5 252.4L469.3 253.7L470.7 256.3L473.8 260.0L475.1 261.5L475.3 263.3L476.9 266.0L476.7 263.9L477.4 262.3L478.6 264.6L478.8 267.0L480.8 267.3L485.0 266.7L486.8 264.4L488.2 263.1L488.9 261.8L489.3 264.9L490.2 266.7L494.7 268.8L497.6 271.7L495.7 276.9L493.6 279.3L494.0 281.1L490.8 283.7L486.0 286.0L483.8 287.1L481.8 288.1L479.2 290.7L475.0 292.6L471.5 294.9L465.8 297.0L462.4 297.3L461.7 295.7L460.8 291.8L460.3 287.6L459.6 286.3L456.1 280.6L451.4 274.3L448.3 267.5L446.3 265.2L444.3 262.0L442.5 259.2L441.2 257.3L439.9 257.3L440.4 253.4L440.2 253.4L438.2 248.7L439.3 246.6L439.6 244.8L440.3 241.9L440.9 240.6L440.5 237.8L441.0 234.9L439.5 234.9L437.5 234.4L433.8 236.5L429.0 234.1L426.7 236.0L423.9 234.7L421.9 233.9L419.4 230.5L419.6 227.9L418.6 226.1L417.9 224.5L417.7 224.0L414.5 223.8L413.9 225.8L411.4 224.5L410.9 226.3L411.9 227.9L411.8 229.5L414.4 232.1L412.2 231.5L412.8 233.1L413.0 235.4L411.5 235.4L409.7 234.4L408.6 232.1L409.4 230.8L408.0 230.2L407.1 228.7L405.9 227.4L405.4 226.3L404.0 224.8L403.8 222.7L403.7 221.2L401.7 219.9L400.8 219.4L397.1 217.0L394.5 215.5L392.6 212.4L391.6 213.7L391.3 211.6L388.2 212.2L388.7 213.4L389.1 215.5L391.0 216.8L392.6 219.6L397.0 221.2L398.6 223.2L401.0 224.5L402.2 225.8L402.0 226.6L401.1 226.1L399.3 224.8L398.0 226.9L399.6 228.7L398.4 230.2L397.4 231.5L396.3 231.0L397.5 228.9L396.2 226.1L394.2 224.5L392.9 224.0L391.6 223.0L388.6 221.4L387.7 220.7L384.8 218.6L384.4 217.0L383.2 215.5L381.3 214.7L380.5 215.0L378.1 216.5L375.2 218.1L374.2 217.6L372.5 217.3L370.6 217.3L369.2 219.4L369.8 220.1L367.5 222.5L365.6 223.2L364.8 224.3L362.3 227.4L363.3 229.5L361.8 230.5L360.8 232.3L358.2 234.7L353.4 234.7L351.3 236.2L350.8 236.5L349.3 235.2L348.1 233.4L345.9 233.9L343.5 233.9L343.8 231.3L342.8 229.5L342.9 227.6L344.5 223.2L344.4 220.4L343.5 218.6L345.4 217.3L346.5 216.3L351.0 216.8L355.0 217.0L356.6 217.3L359.1 217.3L359.6 217.0L360.4 214.0L360.6 211.6L360.4 210.1L358.4 207.3L356.6 206.8L354.0 206.0L353.2 204.5L354.8 203.8L358.9 204.0L359.9 204.0L359.7 201.2L360.3 201.2L362.3 202.2L363.1 201.7L365.1 200.7L366.1 198.7L366.7 198.0L367.7 197.8L368.6 197.5L369.2 197.1L370.0 197.0L371.0 195.5L372.1 193.1L373.4 192.2L376.3 192.0L376.9 192.0L378.7 191.5L379.8 190.7L380.1 190.2L379.5 188.2L379.0 186.8L378.4 185.5L378.4 183.8L379.1 182.9L382.8 181.4L382.7 182.1L382.4 183.1L382.3 185.1L383.6 184.6L381.7 186.5L381.4 188.0L381.0 188.5L382.6 189.5L384.4 189.5L384.0 190.5L386.3 190.0L389.2 189.2L390.5 190.7L393.1 190.0L395.7 188.7L399.2 189.0L399.1 189.5L400.8 189.5L401.3 188.8L403.2 187.2L403.3 186.3L402.8 184.3L403.4 182.1L405.4 181.3L407.9 183.1L408.5 183.1L408.6 180.9L408.7 179.7L406.7 179.2L406.5 178.3L406.3 177.8L408.6 177.2L410.9 176.8L414.7 177.0L416.3 176.1L418.5 176.1L416.2 175.4L415.4 174.2L413.8 174.7L412.2 174.7L408.8 175.4L405.3 176.3L403.6 174.9L401.9 173.2L401.9 172.1L401.2 170.0L401.3 168.6L403.7 166.9L405.9 164.8L407.4 164.1L405.5 162.5L404.7 162.3L401.5 162.8L400.1 164.8L399.1 167.2L396.4 168.3L394.2 170.2L394.3 174.2L397.4 175.4L397.4 177.5L394.9 179.0L394.3 181.2L394.0 183.8L392.6 185.2L390.3 186.3L389.4 187.0L388.2 187.0L387.6 186.5L387.1 185.4L387.2 184.0L385.3 181.4L383.7 178.5L383.1 177.8L382.6 176.1L382.2 177.5L381.5 178.3L377.9 180.4L376.1 180.7L373.3 178.4L372.5 177.3L372.4 174.9L372.0 173.2L372.1 170.7L374.0 170.0L376.6 168.6L378.5 167.2L381.4 165.3L382.5 164.3L384.1 163.0L384.7 161.9L387.5 159.0L389.2 157.4L390.6 155.6L394.5 153.6L397.6 152.5L401.8 151.4Z" fill="none"/>
<g clip-path="url(#cp_eurasia)" stroke="#dcdcdc" stroke-opacity="1" stroke-width="1"><path d="M405.4 218.7L405.9 217.8L406.9 217.8L407.6 218.3L408.5 219.1L408.2 220.3L407.2 220.4L406.5 220.8L406.2 221.2L405.0 219.5Z" fill="url(#hatchm)"/></g>
<path d="M424.3 223.0L429.9 222.2L433.3 220.9L436.8 220.9L439.5 222.7L443.2 223.5L446.8 223.5L450.5 221.9L450.4 220.4L448.5 218.3L445.6 216.8L444.1 215.5L441.1 214.0L440.0 213.4L438.4 212.7L440.0 212.2L441.3 210.6L441.2 208.8L442.1 207.6L443.0 207.6L439.3 207.8L438.1 208.8L435.2 209.6L434.2 210.1L435.7 212.4L438.1 212.0L438.1 212.9L436.0 213.2L435.3 213.7L433.8 214.6L432.3 214.2L431.8 212.7L429.9 212.3L431.8 210.4L430.4 210.4L428.4 209.4L425.7 209.4L425.5 210.4L424.2 212.7L422.5 215.2L421.1 217.8L420.5 219.6L421.7 220.9L421.8 221.2Z" fill="#fff"/>
<path d="M461.4 210.6L464.2 209.4L468.8 208.1L471.1 208.6L472.6 212.4L468.7 213.2L467.1 214.5L469.5 216.8L472.7 218.9L473.3 221.4L476.6 221.9L475.4 224.0L475.5 226.1L475.8 227.6L478.0 230.0L478.8 233.1L479.2 234.1L476.3 234.7L472.1 234.1L469.2 232.6L467.5 230.2L467.3 229.2L468.2 227.9L469.7 225.0L467.9 224.5L465.3 221.4L464.3 220.7L462.1 218.3L461.6 215.8L459.6 214.2L460.1 211.9Z" fill="#fff"/>
<path d="M419.5 224.9L421.4 225.2L424.3 224.9L426.1 224.1L424.1 223.4L421.8 223.5L420.5 224.3Z" fill="#fff"/>
<path d="M61.0 155.4L64.0 156.7L66.5 159.6L69.3 161.6L59.0 165.5L57.8 165.5L55.0 164.6L53.7 161.9L53.9 161.2L47.7 164.1Z" fill="#a8ddb5"/>
<path d="M351.5 200.3L352.5 200.6L354.7 199.6L355.7 199.9L358.0 199.2L360.3 198.9L362.7 198.4L364.8 198.2L365.7 197.6L365.7 197.0L364.3 196.7L364.7 196.0L365.5 195.6L366.3 194.2L365.4 193.1L363.5 193.2L363.6 192.6L363.1 191.5L362.7 190.2L361.7 189.2L360.2 188.0L359.1 186.0L356.8 185.5L358.0 184.8L358.9 182.7L359.5 181.9L359.1 181.4L355.0 181.9L355.8 181.0L357.1 179.6L357.3 179.1L353.6 179.2L353.0 180.2L352.0 181.7L352.2 182.4L351.9 183.1L351.1 183.8L352.4 184.6L351.8 187.2L353.3 186.3L354.0 186.9L353.1 188.3L353.4 188.8L356.2 188.2L355.9 189.2L357.3 190.2L356.9 192.0L353.9 192.2L353.6 193.5L354.8 194.5L352.5 195.7L352.8 196.3L355.0 196.6L356.6 196.8L357.6 196.5L357.0 197.2L356.0 197.5L354.0 198.0L352.9 199.1Z" fill="#e0f3db"/>
<path d="M348.7 187.0L351.1 187.5L352.3 189.5L351.1 190.5L351.0 192.2L351.2 193.1L350.4 195.0L349.1 195.2L346.7 196.0L343.5 196.8L342.4 195.2L343.5 194.1L345.3 192.6L343.0 192.0L343.3 190.6L343.5 189.7L346.3 189.7L346.9 189.0L345.9 188.8L346.9 187.6Z" fill="#e0f3db"/>
<path d="M349.0 187.8L348.4 188.6L347.1 189.3L348.8 190.1L349.9 190.3L350.8 190.2L351.1 190.5L352.3 189.5L351.1 187.5L349.5 187.4Z" fill="#e0f3db"/>
<path d="M320.2 163.0L324.1 160.9L325.5 163.0L327.8 161.6L331.4 161.5L335.0 160.7L337.7 161.2L337.7 162.3L339.1 163.9L336.8 165.7L333.7 166.9L329.4 167.9L326.8 167.4L322.7 166.9L324.1 165.7L320.8 164.3L324.4 163.9Z" fill="#e0f3db"/>
<path d="M384.1 186.3L385.8 185.3L387.0 185.8L386.9 187.2L386.0 188.2L384.4 187.5Z" fill="#e0f3db"/>
<path d="M381.7 186.8L383.4 186.8L383.7 187.7L382.3 188.0Z" fill="#e0f3db"/>
<path d="M378.8 133.7L381.5 132.7L388.6 132.6L393.2 133.7L390.1 135.6L393.9 136.2L389.8 137.6L388.6 139.3L383.8 137.6L382.8 136.2L379.0 135.0Z" fill="#f7fcf0"/>
<path d="M388.6 132.3L395.6 132.0L401.5 132.6L397.7 134.1L390.3 133.5Z" fill="#f7fcf0"/>
<path d="M428.1 131.8L433.5 131.3L442.6 130.4L450.3 131.2L445.6 132.3L437.1 132.4Z" fill="#a8ddb5"/>
<path d="M446.9 149.7L447.7 147.2L449.2 145.5L450.1 143.0L451.6 141.6L455.8 140.1L460.8 138.7L466.8 138.7L467.1 139.9L461.4 141.4L457.4 143.4L455.5 145.5L454.3 147.6L457.3 151.4L452.4 151.4L447.9 150.8Z" fill="#a8ddb5"/>
<path d="M443.5 154.5L445.4 154.0L446.7 155.2L445.3 155.8Z" fill="#a8ddb5"/>
<path d="M499.4 133.7L499.2 130.9L506.1 132.7L515.0 134.7L518.5 136.2L511.1 136.8L504.6 135.0Z" fill="#a8ddb5"/>
<path d="M573.8 141.4L581.0 140.3L594.9 142.0L590.0 142.8L584.6 144.5L576.8 142.8Z" fill="#a8ddb5"/>
<path d="M583.7 145.5L589.8 145.3L588.6 146.2Z" fill="#a8ddb5"/>
<path d="M654.6 150.6L655.4 149.7L657.6 151.0Z" fill="#a8ddb5"/>
<path d="M70.4 149.7L73.6 150.3L71.4 151.0L68.2 151.0Z" fill="#a8ddb5"/>
<path d="M654.6 210.6L657.0 210.4L654.7 208.8L654.4 207.3L652.4 206.3L650.6 202.5L654.4 203.2L648.5 199.2L645.8 195.5L642.4 192.2L638.8 189.5L640.0 191.7L641.2 194.2L644.6 198.0L648.3 201.7L650.7 205.5L652.5 208.1L653.6 209.9Z" fill="#a8ddb5"/>
<path d="M658.2 222.5L659.9 221.4L658.6 220.1L663.9 221.0L664.6 218.3L666.8 217.3L664.1 214.9L662.7 215.8L655.1 211.9L657.2 216.0L657.6 217.6L655.7 217.6L656.1 220.1Z" fill="#e0f3db"/>
<path d="M648.4 241.7L649.0 240.5L651.2 237.8L653.8 237.6L657.2 237.5L657.5 234.4L657.9 232.6L658.6 234.4L661.0 231.5L661.4 228.9L659.8 226.3L658.9 223.0L660.9 222.5L662.8 224.8L665.1 227.1L664.7 230.5L666.5 233.9L668.0 237.3L667.0 239.3L665.1 238.6L665.0 240.1L663.6 240.1L660.9 240.4L659.6 243.1L657.3 241.2L657.3 240.1L653.6 240.6L651.3 240.9L649.7 241.7Z" fill="#e0f3db"/>
<path d="M648.5 241.9L650.5 242.7L651.4 243.8L651.9 245.1L652.0 247.4L651.1 249.5L649.6 248.7L648.7 246.4L647.1 245.1L646.0 243.5L647.7 242.7Z" fill="#e0f3db"/>
<path d="M651.4 243.4L652.3 241.7L652.8 241.4L655.0 240.8L656.3 241.2L656.4 243.6L654.6 243.0L654.3 244.9L652.7 243.8Z" fill="#e0f3db"/>
<path d="M635.2 264.4L636.5 265.2L636.2 268.0L635.6 273.3L633.3 270.6L633.1 268.3L634.1 265.7Z" fill="#ccebc5"/>
<path d="M610.4 278.5L613.2 278.0L614.3 279.3L613.5 281.3L611.5 282.9L609.6 282.1L609.0 280.0Z" fill="#ccebc5"/>
<path d="M546.2 304.8L548.4 306.1L549.6 308.2L551.1 311.4L550.8 313.4L548.3 314.9L546.9 314.2L546.3 312.1L546.2 309.3L546.8 306.9Z" fill="#ccebc5"/>
<path d="M433.1 238.9L434.5 238.0L437.8 237.3L436.8 239.1L434.7 240.1Z" fill="#f7fcf0"/>
<path d="M413.8 237.8L416.0 238.0L420.0 238.3L419.8 239.1L416.6 239.3L413.9 238.6Z" fill="#e0f3db"/>
<path d="M389.5 231.3L391.6 230.8L396.3 230.5L395.4 233.1L395.5 234.7L393.7 234.1L389.7 232.3Z" fill="#e0f3db"/>
<path d="M380.2 223.8L382.3 222.7L383.7 224.8L383.4 228.2L382.1 228.7L380.8 228.7L380.7 225.3Z" fill="#e0f3db"/>
<path d="M380.9 219.9L382.5 218.3L382.9 220.9L382.3 222.5L381.0 221.2Z" fill="#e0f3db"/>
<path d="M689.6 358.3L691.2 363.0L691.2 368.0L694.5 369.3L694.2 370.8L694.6 374.5L695.6 380.8L698.6 382.6L699.9 385.7L702.6 389.6L702.1 391.5L704.8 395.1L706.5 395.6L704.2 402.2L704.1 405.0L701.3 409.5L695.3 416.2L693.0 418.9L688.2 423.5L685.2 428.2L680.3 429.3L675.2 432.4L672.7 430.3L669.3 431.7L665.9 430.6L664.1 429.5L663.9 426.7L664.8 424.1L663.0 423.3L663.9 421.5L664.6 416.8L665.1 415.2L662.0 418.3L658.4 421.2L657.2 420.4L656.8 416.0L656.5 414.2L651.6 412.6L646.6 413.1L639.4 414.7L634.3 416.5L628.8 418.9L623.1 420.2L619.0 422.0L613.5 420.2L614.1 417.8L617.1 413.9L617.3 405.5L617.5 399.5L617.5 394.1L619.0 389.4L620.3 387.3L621.5 387.3L622.7 386.8L627.0 384.4L631.2 383.4L636.7 381.8L640.4 377.4L641.1 374.8L642.7 373.2L643.9 375.5L645.3 372.9L647.9 370.8L650.9 367.5L653.0 366.7L655.5 369.0L657.3 369.3L658.9 366.9L660.6 364.8L662.2 362.8L666.4 362.0L665.1 359.9L668.6 361.2L672.3 362.2L676.3 361.7L675.2 365.1L673.4 366.1L672.1 369.3L674.6 371.9L679.1 374.5L682.9 376.1L685.8 369.5L686.6 366.7L686.8 363.3L688.6 359.1Z" fill="#e0f3db"/>
<path d="M669.1 436.5L672.2 437.6L676.3 437.0L674.1 440.4L671.5 443.0L668.7 444.0L667.0 443.8L667.1 441.4L667.8 438.9Z" fill="#e0f3db"/>
<path d="M739.0 420.2L739.9 421.7L740.7 423.8L739.6 426.4L741.7 425.9L741.0 428.2L742.7 429.5L746.1 428.7L742.9 431.9L740.1 432.9L738.9 434.7L735.5 437.0L732.0 438.9L731.5 438.1L734.0 435.8L734.6 434.5L733.3 432.9L735.6 431.9L737.4 429.5L738.8 426.4L738.8 423.0L738.9 420.7Z" fill="#e0f3db"/>
<path d="M728.7 436.0L730.5 437.0L730.7 437.8L729.3 439.4L726.6 441.2L723.1 443.5L722.9 444.5L718.3 445.8L713.7 449.9L709.7 451.7L707.0 451.7L704.6 450.7L704.9 449.7L709.7 446.8L712.5 445.0L717.4 443.2L721.7 440.9L724.4 438.9L726.7 437.0Z" fill="#e0f3db"/>
<path d="M582.2 315.8L587.3 316.8L589.2 320.0L590.9 321.3L594.4 324.7L597.4 326.0L600.3 328.8L602.1 330.4L601.4 333.0L603.6 335.4L607.0 338.0L607.0 339.0L606.3 345.5L603.5 345.8L602.0 344.0L598.4 340.8L595.5 336.9L594.0 332.7L591.3 329.6L590.3 326.0L587.9 324.1L585.1 320.7L582.5 317.9Z" fill="#7bccc4"/>
<path d="M604.8 348.1L606.7 345.8L608.6 346.1L612.0 346.8L612.8 348.1L616.7 348.4L617.9 347.1L621.7 348.4L625.7 350.8L625.8 353.1L622.9 352.1L617.8 351.9L612.2 350.8L607.6 349.7L605.0 348.3Z" fill="#7bccc4"/>
<path d="M625.9 351.5L628.6 352.3L627.4 353.4L625.9 352.3Z" fill="#7bccc4"/>
<path d="M629.3 352.1L630.9 352.3L630.4 353.6L629.2 353.4Z" fill="#7bccc4"/>
<path d="M631.1 352.3L636.7 352.1L636.1 353.4L631.5 354.1Z" fill="#7bccc4"/>
<path d="M638.3 352.3L645.4 351.8L644.9 353.1L638.4 353.4Z" fill="#7bccc4"/>
<path d="M636.0 355.2L640.1 356.2L638.6 357.3L635.9 356.0Z" fill="#7bccc4"/>
<path d="M646.1 357.3L647.5 354.9L649.9 353.6L650.0 355.2L647.3 357.3Z" fill="#7bccc4"/>
<path d="M649.9 353.6L655.3 352.3L653.3 353.9L650.0 355.2Z" fill="#4eb3d3"/>
<path d="M615.4 325.2L619.1 326.5L619.5 323.9L623.1 322.1L625.3 318.4L628.7 317.4L629.7 314.7L631.4 312.1L633.5 313.4L637.2 316.6L635.0 318.9L633.6 319.4L634.4 322.1L634.7 324.4L637.1 327.8L634.3 328.3L633.7 331.7L631.3 334.3L631.2 338.2L630.0 340.6L626.7 341.1L623.1 338.7L620.3 339.5L616.7 338.0L616.3 334.3L614.6 331.7L614.1 328.3L614.0 326.5Z" fill="#7bccc4"/>
<path d="M615.4 325.2L619.1 326.5L619.5 323.9L623.1 322.1L625.3 318.4L628.7 317.4L629.7 314.7L631.4 312.1L633.5 313.4L637.2 316.6L635.0 318.9L633.6 319.4L629.0 319.4L629.3 321.3L627.8 323.9L626.9 326.5L624.9 327.0L621.4 326.5L620.5 327.8L617.5 328.1L615.7 327.8Z" fill="#a8ddb5"/>
<path d="M625.3 318.4L628.5 317.4L628.3 319.2L626.7 320.0Z" fill="#a8ddb5"/>
<path d="M639.0 329.1L639.4 327.0L641.7 327.0L646.3 328.1L649.8 327.3L651.3 326.0L649.8 329.1L646.4 329.4L641.7 329.1L639.9 330.4L639.4 332.5L641.7 333.0L643.1 332.5L647.0 332.2L645.1 334.6L642.8 335.4L643.9 338.2L645.8 340.8L645.6 342.9L642.8 342.9L642.6 340.8L641.3 338.2L639.9 338.2L640.1 342.1L639.9 345.0L637.8 345.0L638.0 340.8L636.5 337.7L637.8 334.3L639.0 330.9Z" fill="#7bccc4"/>
<path d="M656.8 325.2L658.1 327.3L659.7 327.8L658.3 329.4L658.8 332.5L657.4 331.2L656.9 328.1Z" fill="#7bccc4"/>
<path d="M657.4 338.7L664.1 339.0L662.2 340.1L657.6 339.8Z" fill="#7bccc4"/>
<path d="M653.0 338.7L655.8 339.0L654.8 340.3L653.0 339.8Z" fill="#7bccc4"/>
<path d="M671.7 344.8L673.0 345.3L672.3 348.1L671.5 347.4Z" fill="#7bccc4"/>
<path d="M664.5 332.7L668.3 331.4L671.7 332.5L672.0 335.6L673.1 338.7L675.6 338.2L678.0 336.1L680.8 334.6L685.4 336.7L687.6 337.2L686.6 354.1L683.3 351.8L679.8 352.3L679.6 349.7L682.0 348.7L680.4 345.0L676.0 342.4L671.4 340.6L669.1 341.1L668.7 339.0L666.9 338.0L670.6 336.9L667.4 336.1L664.7 334.1Z" fill="#7bccc4"/>
<path d="M687.6 337.2L691.0 338.7L695.6 340.6L698.5 343.4L701.0 346.1L703.0 347.1L700.8 348.1L702.9 351.3L705.0 353.9L708.8 357.3L706.8 358.1L702.4 357.0L700.3 355.2L698.2 351.8L694.9 350.5L692.5 352.1L691.1 354.4L686.6 354.1Z" fill="#4eb3d3"/>
<path d="M704.1 345.0L705.7 344.8L709.2 344.8L713.3 341.4L713.7 343.4L710.2 346.1L706.7 346.8L704.3 345.5Z" fill="#4eb3d3"/>
<path d="M710.2 337.2L714.7 340.8L715.3 342.7L714.2 341.1L710.2 337.7Z" fill="#4eb3d3"/>
<path d="M718.7 344.0L721.4 347.6L720.4 348.4L718.8 345.8Z" fill="#4eb3d3"/>
<path d="M722.7 347.9L725.1 349.7L724.3 350.2L722.4 348.4Z" fill="#7bccc4"/>
<path d="M725.9 350.2L729.9 352.3L729.4 352.8L725.6 351.0Z" fill="#7bccc4"/>
<path d="M729.2 354.7L731.9 356.0L731.1 356.4L729.2 355.2Z" fill="#7bccc4"/>
<path d="M731.7 352.3L733.3 355.2L732.8 355.4L731.5 352.8Z" fill="#7bccc4"/>
<path d="M732.8 357.3L735.0 358.3L734.2 358.7L732.8 357.8Z" fill="#7bccc4"/>
<path d="M743.1 369.0L744.2 370.3L743.3 371.4L742.7 370.1Z" fill="#7bccc4"/>
<path d="M743.8 372.1L744.9 373.2L743.9 373.7Z" fill="#7bccc4"/>
<path d="M745.0 376.1L745.7 376.6L745.0 377.0Z" fill="#7bccc4"/>
<path d="M734.1 382.8L738.8 386.5L739.3 388.6L737.7 388.1L734.2 384.1Z" fill="url(#hatchm)" stroke="#d0d0d0" stroke-opacity="1"/>
<path d="M765.9 375.8L768.8 376.3L768.1 377.9L765.5 377.6Z" fill="#7bccc4"/>
<path d="M769.4 374.5L772.8 372.7L772.1 373.7L769.6 374.8Z" fill="#7bccc4"/>
<path d="M636.6 282.1L640.2 282.1L641.0 285.3L641.2 287.9L640.0 288.9L640.6 293.3L642.3 294.1L646.0 294.4L646.8 297.5L644.9 296.5L643.2 296.0L640.9 294.1L638.4 294.4L638.9 292.6L637.2 291.8L635.9 287.9L636.9 287.1Z" fill="#7bccc4"/>
<path d="M637.8 295.2L640.2 295.7L640.7 298.0L639.6 298.6Z" fill="#7bccc4"/>
<path d="M632.1 308.7L636.9 300.7L636.5 303.5L633.0 308.7Z" fill="#7bccc4"/>
<path d="M647.3 297.8L649.6 297.8L650.9 301.2L650.1 303.8L649.2 303.8L647.9 300.7Z" fill="#7bccc4"/>
<path d="M642.3 299.6L644.8 300.1L646.1 303.0L645.7 306.7L644.0 305.4L643.5 302.7L642.4 303.0Z" fill="#7bccc4"/>
<path d="M646.8 301.2L647.4 302.7L648.5 304.3L647.0 305.4L646.1 305.6L646.3 303.3Z" fill="#7bccc4"/>
<path d="M643.6 312.4L646.4 310.3L647.6 310.6L648.3 311.4L648.0 313.7L650.9 314.7L651.4 315.8L652.0 314.5L653.1 314.0L653.9 311.4L653.2 308.5L652.3 306.1L650.9 304.8L649.4 306.9L648.3 308.0L647.3 309.3L646.2 307.7L645.0 309.3L643.7 310.3Z" fill="#7bccc4"/>
<path d="M305.1 285.9L305.8 285.1L306.5 285.9L305.8 286.7Z" fill="#7bccc4"/>
<path d="M307.3 287.1L307.8 286.4L308.4 287.1L307.8 287.7Z" fill="#7bccc4"/>
<path d="M308.3 291.0L309.1 290.1L309.9 291.0L309.0 291.9Z" fill="#7bccc4"/>
<path d="M306.6 291.5L307.2 290.9L307.8 291.5L307.2 292.2Z" fill="#7bccc4"/>
<path d="M310.2 288.4L310.9 287.7L311.5 288.4L310.8 289.1Z" fill="#7bccc4"/>
<path d="M310.2 286.7L310.7 286.2L311.1 286.7L310.7 287.2Z" fill="#7bccc4"/>
<path d="M377.5 329.7L378.1 329.0L378.8 329.7L378.1 330.5Z" fill="#7bccc4"/>
<path d="M379.5 326.2L379.9 325.8L380.4 326.2L379.9 326.7Z" fill="#7bccc4"/>
<path d="M461.5 360.9L462.2 360.1L462.9 360.9L462.1 361.7Z" fill="#4eb3d3"/>
<path d="M464.0 362.2L464.5 361.7L465.0 362.2L464.5 362.8Z" fill="#4eb3d3"/>
<path d="M465.6 363.8L466.2 363.1L466.7 363.8L466.1 364.4Z" fill="#4eb3d3"/>
<path d="M492.4 383.2L493.2 382.4L493.8 383.2L493.0 384.1Z" fill="#a8ddb5"/>
<path d="M487.6 385.5L488.4 384.6L489.0 385.5L488.2 386.3Z" fill="#a8ddb5"/>
<path d="M490.1 342.5L490.7 342.0L491.2 342.5L490.6 343.1Z" fill="#a8ddb5"/>
<path d="M531.4 319.4L531.9 318.9L532.3 319.4L531.9 320.0Z" fill="#a8ddb5"/>
<path d="M531.1 325.2L531.5 324.7L531.9 325.2L531.5 325.7Z" fill="#a8ddb5"/>
<path d="M221.2 298.8L221.7 298.3L222.1 298.8L221.6 299.4Z" fill="#a8ddb5"/>
<path d="M222.5 296.0L223.0 295.4L223.4 296.0L222.9 296.5Z" fill="#a8ddb5"/>
<path d="M223.0 294.1L223.6 293.6L224.0 294.1L223.5 294.7Z" fill="#a8ddb5"/>
<path d="M223.1 292.2L223.7 291.5L224.2 292.2L223.6 292.8Z" fill="#a8ddb5"/>
<path d="M222.5 290.2L223.0 289.6L223.5 290.2L223.0 290.8Z" fill="#a8ddb5"/>
<path d="M222.1 288.1L222.8 287.4L223.4 288.1L222.7 288.9Z" fill="#a8ddb5"/>
<path d="M221.9 285.8L222.4 285.3L222.8 285.8L222.3 286.3Z" fill="#a8ddb5"/>
<path d="M219.7 285.3L220.2 284.8L220.5 285.3L220.1 285.7Z" fill="#a8ddb5"/>
<path d="M226.3 296.1L226.8 295.6L227.2 296.1L226.7 296.6Z" fill="#a8ddb5"/>
<path d="M215.3 283.4L215.8 282.9L216.2 283.4L215.7 284.0Z" fill="#a8ddb5"/>
<path d="M188.8 265.0L189.5 264.4L189.9 265.0L189.3 265.7Z" fill="#a8ddb5"/>
<path d="M191.4 266.5L191.9 265.9L192.3 266.5L191.8 267.0Z" fill="#a8ddb5"/>
<path d="M192.7 268.3L193.3 267.8L193.6 268.3L193.1 268.8Z" fill="#a8ddb5"/>
<path d="M196.1 275.3L196.7 274.8L197.1 275.3L196.6 275.9Z" fill="#a8ddb5"/>
<path d="M186.7 261.0L187.5 260.2L188.1 261.0L187.2 261.8Z" fill="#a8ddb5"/>
<path d="M671.7 311.1L672.0 310.8L672.3 311.1L672.0 311.4Z" fill="#a8ddb5"/>
<path d="M693.6 295.3L693.8 295.0L694.2 295.3L693.9 295.6Z" fill="#a8ddb5"/>
<path d="M711.5 311.1L711.7 310.8L712.0 311.1L711.8 311.4Z" fill="#a8ddb5"/>
<path d="M726.3 312.4L726.5 312.1L726.8 312.4L726.6 312.7Z" fill="#a8ddb5"/>
<path d="M737.8 316.6L738.0 316.3L738.2 316.6L738.0 316.8Z" fill="#a8ddb5"/>
<path d="M756.2 311.9L756.4 311.6L756.6 311.9L756.4 312.1Z" fill="#a8ddb5"/>
<path d="M761.2 326.7L761.5 326.4L761.8 326.7L761.5 327.1Z" fill="#a8ddb5"/>
<path d="M747.3 331.7L747.5 331.4L747.8 331.7L747.5 332.0Z" fill="#a8ddb5"/>
<path d="M774.1 352.6L774.5 352.3L774.7 352.6L774.4 352.9Z" fill="#a8ddb5"/>
<path d="M767.7 363.0L767.9 362.8L768.1 363.0L767.8 363.3Z" fill="#a8ddb5"/>
<path d="M-0.3 325.4L0.3 324.7L1.0 325.4L0.3 326.2Z" fill="#7bccc4"/></g></svg>
</body></html>
